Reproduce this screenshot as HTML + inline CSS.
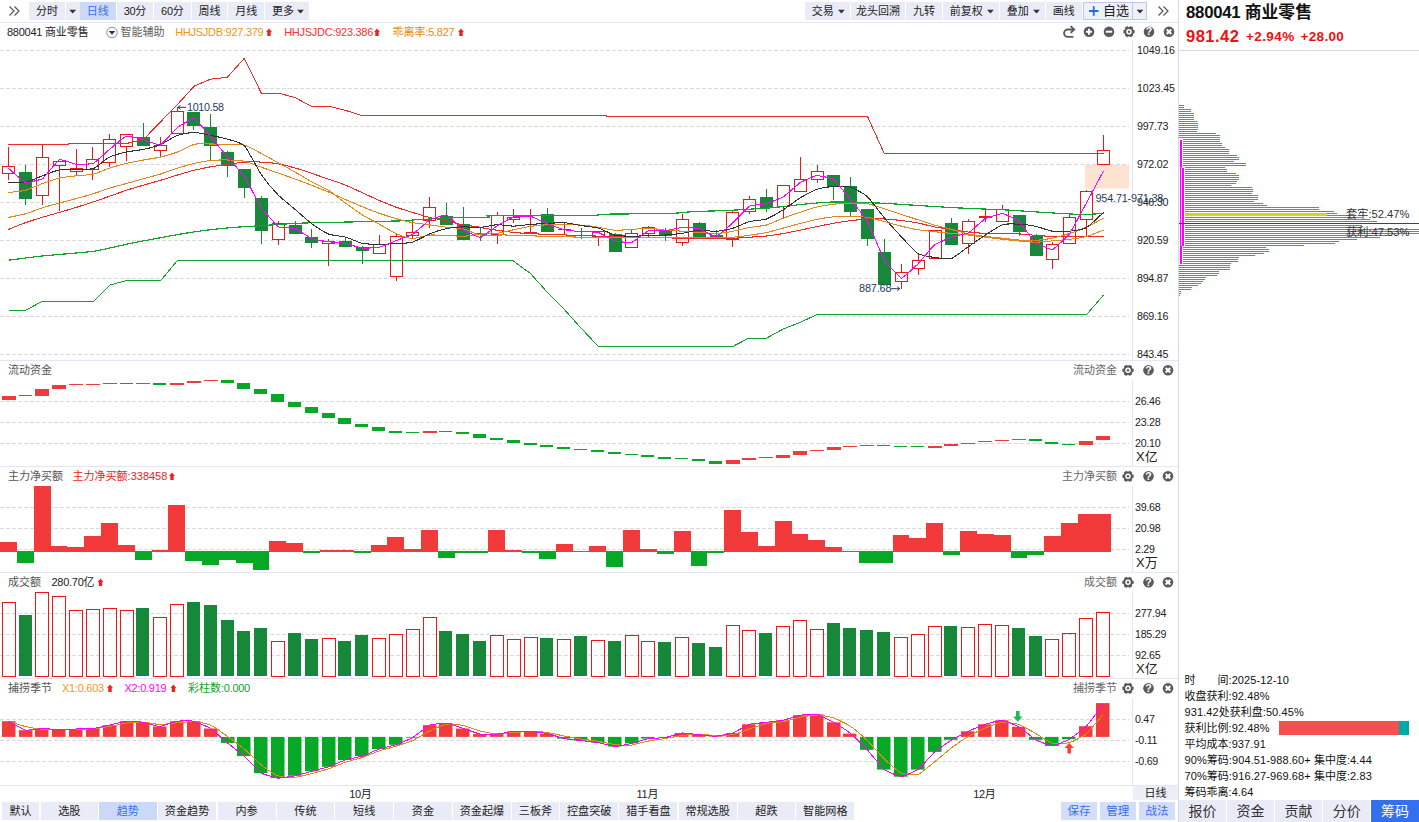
<!DOCTYPE html>
<html lang="zh-CN"><head><meta charset="utf-8"><title>880041 商业零售</title>
<style>html,body{margin:0;padding:0;background:#fff}
body{width:1419px;height:822px;position:relative;overflow:hidden;font-family:"Liberation Sans","Noto Sans CJK SC",sans-serif}
.b{position:absolute}
.t{position:absolute;white-space:nowrap}
svg{position:absolute;left:0;top:0}
.l1{z-index:1}.l2{z-index:2}.l3{z-index:3}
</style></head><body>
<div class="b" style="left:29px;top:2px;width:36px;height:18px;background:#E9ECF6;"></div>
<div class="b" style="left:66px;top:2px;width:13.5px;height:18px;background:#E9ECF6;"></div>
<div class="b" style="left:80px;top:2px;width:35.7px;height:18px;background:#CBD9F9;"></div>
<div class="b" style="left:116.6px;top:2px;width:36.80000000000001px;height:18px;background:#E9ECF6;"></div>
<div class="b" style="left:154.3px;top:2px;width:36.29999999999998px;height:18px;background:#E9ECF6;"></div>
<div class="b" style="left:191.5px;top:2px;width:35.80000000000001px;height:18px;background:#E9ECF6;"></div>
<div class="b" style="left:228.2px;top:2px;width:36.10000000000002px;height:18px;background:#E9ECF6;"></div>
<div class="b" style="left:265.2px;top:2px;width:43.80000000000001px;height:18px;background:#E9ECF6;"></div>
<div class="b" style="left:805.2px;top:2px;width:44.39999999999998px;height:18px;background:#E9ECF6;"></div>
<div class="b" style="left:851px;top:2px;width:53.799999999999955px;height:18px;background:#E9ECF6;"></div>
<div class="b" style="left:906.1px;top:2px;width:35.69999999999993px;height:18px;background:#E9ECF6;"></div>
<div class="b" style="left:943.1px;top:2px;width:55.5px;height:18px;background:#E9ECF6;"></div>
<div class="b" style="left:1000.1px;top:2px;width:44.60000000000002px;height:18px;background:#E9ECF6;"></div>
<div class="b" style="left:1045.9px;top:2px;width:35.899999999999864px;height:18px;background:#E9ECF6;"></div>
<div class="b" style="left:1083px;top:2px;width:49px;height:17px;background:#EEF1FA;border:1px solid #BCC7EA;box-sizing:content-box;width:48px;height:16px;"></div>
<div class="b" style="left:1133px;top:2px;width:14px;height:17px;background:#EEF1FA;border:1px solid #BCC7EA;border-left:none;box-sizing:content-box;width:13px;height:16px;"></div>
<div class="b" style="left:1133px;top:786px;width:45px;height:14px;background:#ECEEF8;"></div>
<div class="b" style="left:2px;top:802px;width:37px;height:18px;background:#E9ECF6;"></div>
<div class="b" style="left:40.6px;top:802px;width:57.4px;height:18px;background:#E9ECF6;"></div>
<div class="b" style="left:99px;top:802px;width:57.599999999999994px;height:18px;background:#CBD9F9;"></div>
<div class="b" style="left:157.6px;top:802px;width:58.900000000000006px;height:18px;background:#E9ECF6;"></div>
<div class="b" style="left:217.5px;top:802px;width:58.19999999999999px;height:18px;background:#E9ECF6;"></div>
<div class="b" style="left:276.7px;top:802px;width:57.5px;height:18px;background:#E9ECF6;"></div>
<div class="b" style="left:335.3px;top:802px;width:57.69999999999999px;height:18px;background:#E9ECF6;"></div>
<div class="b" style="left:394px;top:802px;width:57.80000000000001px;height:18px;background:#E9ECF6;"></div>
<div class="b" style="left:452.9px;top:802px;width:58.10000000000002px;height:18px;background:#E9ECF6;"></div>
<div class="b" style="left:512px;top:802px;width:47px;height:18px;background:#E9ECF6;"></div>
<div class="b" style="left:560px;top:802px;width:58.299999999999955px;height:18px;background:#E9ECF6;"></div>
<div class="b" style="left:619.3px;top:802px;width:58.200000000000045px;height:18px;background:#E9ECF6;"></div>
<div class="b" style="left:678.5px;top:802px;width:58.200000000000045px;height:18px;background:#E9ECF6;"></div>
<div class="b" style="left:737.7px;top:802px;width:57.5px;height:18px;background:#E9ECF6;"></div>
<div class="b" style="left:796.2px;top:802px;width:58.19999999999993px;height:18px;background:#E9ECF6;"></div>
<div class="b" style="left:1061.4px;top:802px;width:35.19999999999982px;height:18px;background:#D3DEFA;"></div>
<div class="b" style="left:1100px;top:802px;width:35.59999999999991px;height:18px;background:#D3DEFA;"></div>
<div class="b" style="left:1138.8px;top:802px;width:36.200000000000045px;height:18px;background:#D3DEFA;"></div>
<div class="b" style="left:1179px;top:800px;width:47px;height:22px;background:#E9ECF6;"></div>
<div class="b" style="left:1227px;top:800px;width:47px;height:22px;background:#E9ECF6;"></div>
<div class="b" style="left:1275px;top:800px;width:47px;height:22px;background:#E9ECF6;"></div>
<div class="b" style="left:1323px;top:800px;width:47.40000000000009px;height:22px;background:#E9ECF6;"></div>
<div class="b" style="left:1371px;top:800px;width:48px;height:22px;background:#3370F0;"></div>
<svg width="1419" height="822" viewBox="0 0 1419 822">
<line x1="0" y1="50.5" x2="1129" y2="50.5" stroke="#DADADA" stroke-width="1" stroke-dasharray="4 2" shape-rendering="crispEdges"/>
<line x1="0" y1="88.5" x2="1129" y2="88.5" stroke="#DADADA" stroke-width="1" stroke-dasharray="4 2" shape-rendering="crispEdges"/>
<line x1="0" y1="126.5" x2="1129" y2="126.5" stroke="#DADADA" stroke-width="1" stroke-dasharray="4 2" shape-rendering="crispEdges"/>
<line x1="0" y1="164.5" x2="1129" y2="164.5" stroke="#DADADA" stroke-width="1" stroke-dasharray="4 2" shape-rendering="crispEdges"/>
<line x1="0" y1="202.5" x2="1129" y2="202.5" stroke="#DADADA" stroke-width="1" stroke-dasharray="4 2" shape-rendering="crispEdges"/>
<line x1="0" y1="240.5" x2="1129" y2="240.5" stroke="#DADADA" stroke-width="1" stroke-dasharray="4 2" shape-rendering="crispEdges"/>
<line x1="0" y1="278.5" x2="1129" y2="278.5" stroke="#DADADA" stroke-width="1" stroke-dasharray="4 2" shape-rendering="crispEdges"/>
<line x1="0" y1="316.5" x2="1129" y2="316.5" stroke="#DADADA" stroke-width="1" stroke-dasharray="4 2" shape-rendering="crispEdges"/>
<line x1="0" y1="354.5" x2="1129" y2="354.5" stroke="#DADADA" stroke-width="1" stroke-dasharray="4 2" shape-rendering="crispEdges"/>
<line x1="0" y1="401.5" x2="1129" y2="401.5" stroke="#DADADA" stroke-width="1" stroke-dasharray="4 2" shape-rendering="crispEdges"/>
<line x1="0" y1="422.5" x2="1129" y2="422.5" stroke="#DADADA" stroke-width="1" stroke-dasharray="4 2" shape-rendering="crispEdges"/>
<line x1="0" y1="443.5" x2="1129" y2="443.5" stroke="#DADADA" stroke-width="1" stroke-dasharray="4 2" shape-rendering="crispEdges"/>
<line x1="0" y1="507.5" x2="1129" y2="507.5" stroke="#DADADA" stroke-width="1" stroke-dasharray="4 2" shape-rendering="crispEdges"/>
<line x1="0" y1="528.5" x2="1129" y2="528.5" stroke="#DADADA" stroke-width="1" stroke-dasharray="4 2" shape-rendering="crispEdges"/>
<line x1="0" y1="549.5" x2="1129" y2="549.5" stroke="#DADADA" stroke-width="1" stroke-dasharray="4 2" shape-rendering="crispEdges"/>
<line x1="0" y1="613.5" x2="1129" y2="613.5" stroke="#DADADA" stroke-width="1" stroke-dasharray="4 2" shape-rendering="crispEdges"/>
<line x1="0" y1="634.5" x2="1129" y2="634.5" stroke="#DADADA" stroke-width="1" stroke-dasharray="4 2" shape-rendering="crispEdges"/>
<line x1="0" y1="655.5" x2="1129" y2="655.5" stroke="#DADADA" stroke-width="1" stroke-dasharray="4 2" shape-rendering="crispEdges"/>
<line x1="0" y1="719.5" x2="1129" y2="719.5" stroke="#DADADA" stroke-width="1" stroke-dasharray="4 2" shape-rendering="crispEdges"/>
<line x1="0" y1="740.5" x2="1129" y2="740.5" stroke="#DADADA" stroke-width="1" stroke-dasharray="4 2" shape-rendering="crispEdges"/>
<line x1="0" y1="761.5" x2="1129" y2="761.5" stroke="#DADADA" stroke-width="1" stroke-dasharray="4 2" shape-rendering="crispEdges"/>
<line x1="0" y1="360.5" x2="1178" y2="360.5" stroke="#E2E5F3" stroke-width="1" shape-rendering="crispEdges"/>
<line x1="0" y1="466.5" x2="1178" y2="466.5" stroke="#E2E5F3" stroke-width="1" shape-rendering="crispEdges"/>
<line x1="0" y1="572.5" x2="1178" y2="572.5" stroke="#E2E5F3" stroke-width="1" shape-rendering="crispEdges"/>
<line x1="0" y1="678.5" x2="1178" y2="678.5" stroke="#E2E5F3" stroke-width="1" shape-rendering="crispEdges"/>
<line x1="0" y1="785.5" x2="1178" y2="785.5" stroke="#E2E5F3" stroke-width="1" shape-rendering="crispEdges"/>
<line x1="1132.5" y1="41" x2="1132.5" y2="360" stroke="#E2E5F3" stroke-width="1" shape-rendering="crispEdges"/>
<line x1="1132.5" y1="379.5" x2="1132.5" y2="466" stroke="#E2E5F3" stroke-width="1" shape-rendering="crispEdges"/>
<line x1="1132.5" y1="485" x2="1132.5" y2="572" stroke="#E2E5F3" stroke-width="1" shape-rendering="crispEdges"/>
<line x1="1132.5" y1="591" x2="1132.5" y2="678" stroke="#E2E5F3" stroke-width="1" shape-rendering="crispEdges"/>
<line x1="1132.5" y1="697.5" x2="1132.5" y2="786" stroke="#E2E5F3" stroke-width="1" shape-rendering="crispEdges"/>
<rect x="1085.0" y="165.0" width="44.0" height="23.5" fill="#FFE3D1" />
<line x1="8.5" y1="147.0" x2="8.5" y2="166.5" stroke="#EE1616" stroke-width="1" shape-rendering="crispEdges"/>
<line x1="8.5" y1="173.5" x2="8.5" y2="180.0" stroke="#EE1616" stroke-width="1" shape-rendering="crispEdges"/>
<rect x="2.5" y="166.5" width="12.0" height="7.0" fill="none" stroke="#EE1616" stroke-width="1" shape-rendering="crispEdges"/>
<line x1="25.5" y1="165.0" x2="25.5" y2="205.0" stroke="#17873A" stroke-width="1" shape-rendering="crispEdges"/>
<rect x="19.0" y="172.0" width="13.0" height="27.0" fill="#17873A" shape-rendering="crispEdges"/>
<line x1="42.5" y1="145.0" x2="42.5" y2="157.5" stroke="#EE1616" stroke-width="1" shape-rendering="crispEdges"/>
<line x1="42.5" y1="195.5" x2="42.5" y2="205.0" stroke="#EE1616" stroke-width="1" shape-rendering="crispEdges"/>
<rect x="36.5" y="157.5" width="12.0" height="38.0" fill="none" stroke="#EE1616" stroke-width="1" shape-rendering="crispEdges"/>
<line x1="59.5" y1="165.5" x2="59.5" y2="211.0" stroke="#EE1616" stroke-width="1" shape-rendering="crispEdges"/>
<rect x="53.5" y="161.5" width="12.0" height="4.0" fill="none" stroke="#EE1616" stroke-width="1" shape-rendering="crispEdges"/>
<line x1="76.5" y1="149.0" x2="76.5" y2="168.5" stroke="#EE1616" stroke-width="1" shape-rendering="crispEdges"/>
<line x1="76.5" y1="171.5" x2="76.5" y2="175.0" stroke="#EE1616" stroke-width="1" shape-rendering="crispEdges"/>
<rect x="70.5" y="168.5" width="12.0" height="3.0" fill="none" stroke="#EE1616" stroke-width="1" shape-rendering="crispEdges"/>
<line x1="92.5" y1="147.0" x2="92.5" y2="159.5" stroke="#EE1616" stroke-width="1" shape-rendering="crispEdges"/>
<line x1="92.5" y1="169.5" x2="92.5" y2="180.0" stroke="#EE1616" stroke-width="1" shape-rendering="crispEdges"/>
<rect x="86.5" y="159.5" width="12.0" height="10.0" fill="none" stroke="#EE1616" stroke-width="1" shape-rendering="crispEdges"/>
<line x1="109.5" y1="134.0" x2="109.5" y2="139.5" stroke="#EE1616" stroke-width="1" shape-rendering="crispEdges"/>
<line x1="109.5" y1="162.5" x2="109.5" y2="167.0" stroke="#EE1616" stroke-width="1" shape-rendering="crispEdges"/>
<rect x="103.5" y="139.5" width="12.0" height="23.0" fill="none" stroke="#EE1616" stroke-width="1" shape-rendering="crispEdges"/>
<line x1="126.5" y1="146.5" x2="126.5" y2="161.0" stroke="#EE1616" stroke-width="1" shape-rendering="crispEdges"/>
<rect x="120.5" y="134.5" width="12.0" height="12.0" fill="none" stroke="#EE1616" stroke-width="1" shape-rendering="crispEdges"/>
<line x1="143.5" y1="123.0" x2="143.5" y2="146.0" stroke="#17873A" stroke-width="1" shape-rendering="crispEdges"/>
<rect x="137.0" y="137.0" width="13.0" height="9.0" fill="#17873A" shape-rendering="crispEdges"/>
<line x1="160.5" y1="137.0" x2="160.5" y2="145.5" stroke="#EE1616" stroke-width="1" shape-rendering="crispEdges"/>
<line x1="160.5" y1="150.5" x2="160.5" y2="157.0" stroke="#EE1616" stroke-width="1" shape-rendering="crispEdges"/>
<rect x="154.5" y="145.5" width="12.0" height="5.0" fill="none" stroke="#EE1616" stroke-width="1" shape-rendering="crispEdges"/>
<line x1="177.5" y1="107.0" x2="177.5" y2="111.5" stroke="#EE1616" stroke-width="1" shape-rendering="crispEdges"/>
<rect x="171.5" y="111.5" width="12.0" height="22.0" fill="none" stroke="#EE1616" stroke-width="1" shape-rendering="crispEdges"/>
<line x1="193.5" y1="112.0" x2="193.5" y2="130.0" stroke="#17873A" stroke-width="1" shape-rendering="crispEdges"/>
<rect x="187.0" y="112.0" width="13.0" height="14.0" fill="#17873A" shape-rendering="crispEdges"/>
<line x1="210.5" y1="114.0" x2="210.5" y2="160.0" stroke="#17873A" stroke-width="1" shape-rendering="crispEdges"/>
<rect x="204.0" y="127.0" width="13.0" height="19.0" fill="#17873A" shape-rendering="crispEdges"/>
<line x1="227.5" y1="151.0" x2="227.5" y2="177.0" stroke="#17873A" stroke-width="1" shape-rendering="crispEdges"/>
<rect x="221.0" y="152.0" width="13.0" height="14.0" fill="#17873A" shape-rendering="crispEdges"/>
<line x1="244.5" y1="169.0" x2="244.5" y2="198.0" stroke="#17873A" stroke-width="1" shape-rendering="crispEdges"/>
<rect x="238.0" y="169.0" width="13.0" height="19.0" fill="#17873A" shape-rendering="crispEdges"/>
<line x1="261.5" y1="196.0" x2="261.5" y2="244.0" stroke="#17873A" stroke-width="1" shape-rendering="crispEdges"/>
<rect x="255.0" y="198.0" width="13.0" height="33.0" fill="#17873A" shape-rendering="crispEdges"/>
<line x1="278.5" y1="221.0" x2="278.5" y2="223.5" stroke="#EE1616" stroke-width="1" shape-rendering="crispEdges"/>
<line x1="278.5" y1="239.5" x2="278.5" y2="245.0" stroke="#EE1616" stroke-width="1" shape-rendering="crispEdges"/>
<rect x="272.5" y="223.5" width="12.0" height="16.0" fill="none" stroke="#EE1616" stroke-width="1" shape-rendering="crispEdges"/>
<line x1="295.5" y1="221.0" x2="295.5" y2="234.0" stroke="#17873A" stroke-width="1" shape-rendering="crispEdges"/>
<rect x="289.0" y="225.0" width="13.0" height="9.0" fill="#17873A" shape-rendering="crispEdges"/>
<line x1="311.5" y1="229.0" x2="311.5" y2="248.0" stroke="#17873A" stroke-width="1" shape-rendering="crispEdges"/>
<rect x="305.0" y="237.0" width="13.0" height="6.0" fill="#17873A" shape-rendering="crispEdges"/>
<line x1="328.5" y1="239.0" x2="328.5" y2="241.5" stroke="#EE1616" stroke-width="1" shape-rendering="crispEdges"/>
<line x1="328.5" y1="243.5" x2="328.5" y2="266.0" stroke="#EE1616" stroke-width="1" shape-rendering="crispEdges"/>
<rect x="322.5" y="241.5" width="12.0" height="2.0" fill="none" stroke="#EE1616" stroke-width="1" shape-rendering="crispEdges"/>
<line x1="345.5" y1="238.0" x2="345.5" y2="247.0" stroke="#17873A" stroke-width="1" shape-rendering="crispEdges"/>
<rect x="339.0" y="241.0" width="13.0" height="6.0" fill="#17873A" shape-rendering="crispEdges"/>
<line x1="362.5" y1="246.0" x2="362.5" y2="264.0" stroke="#17873A" stroke-width="1" shape-rendering="crispEdges"/>
<rect x="356.0" y="247.0" width="13.0" height="4.0" fill="#17873A" shape-rendering="crispEdges"/>
<line x1="379.5" y1="235.0" x2="379.5" y2="244.5" stroke="#EE1616" stroke-width="1" shape-rendering="crispEdges"/>
<rect x="373.5" y="244.5" width="12.0" height="9.0" fill="none" stroke="#EE1616" stroke-width="1" shape-rendering="crispEdges"/>
<line x1="396.5" y1="233.0" x2="396.5" y2="236.5" stroke="#EE1616" stroke-width="1" shape-rendering="crispEdges"/>
<line x1="396.5" y1="276.5" x2="396.5" y2="281.0" stroke="#EE1616" stroke-width="1" shape-rendering="crispEdges"/>
<rect x="390.5" y="236.5" width="12.0" height="40.0" fill="none" stroke="#EE1616" stroke-width="1" shape-rendering="crispEdges"/>
<line x1="412.5" y1="221.0" x2="412.5" y2="232.5" stroke="#EE1616" stroke-width="1" shape-rendering="crispEdges"/>
<line x1="412.5" y1="235.5" x2="412.5" y2="238.0" stroke="#EE1616" stroke-width="1" shape-rendering="crispEdges"/>
<rect x="406.5" y="232.5" width="12.0" height="3.0" fill="none" stroke="#EE1616" stroke-width="1" shape-rendering="crispEdges"/>
<line x1="429.5" y1="197.0" x2="429.5" y2="207.5" stroke="#EE1616" stroke-width="1" shape-rendering="crispEdges"/>
<line x1="429.5" y1="220.5" x2="429.5" y2="228.0" stroke="#EE1616" stroke-width="1" shape-rendering="crispEdges"/>
<rect x="423.5" y="207.5" width="12.0" height="13.0" fill="none" stroke="#EE1616" stroke-width="1" shape-rendering="crispEdges"/>
<line x1="446.5" y1="203.0" x2="446.5" y2="225.0" stroke="#17873A" stroke-width="1" shape-rendering="crispEdges"/>
<rect x="440.0" y="216.0" width="13.0" height="9.0" fill="#17873A" shape-rendering="crispEdges"/>
<line x1="463.5" y1="207.0" x2="463.5" y2="240.0" stroke="#17873A" stroke-width="1" shape-rendering="crispEdges"/>
<rect x="457.0" y="224.0" width="13.0" height="16.0" fill="#17873A" shape-rendering="crispEdges"/>
<line x1="480.5" y1="228.0" x2="480.5" y2="241.0" stroke="#17873A" stroke-width="1" shape-rendering="crispEdges"/>
<rect x="474.0" y="233.0" width="13.0" height="2.0" fill="#17873A" shape-rendering="crispEdges"/>
<line x1="497.5" y1="212.0" x2="497.5" y2="215.5" stroke="#EE1616" stroke-width="1" shape-rendering="crispEdges"/>
<line x1="497.5" y1="234.5" x2="497.5" y2="244.0" stroke="#EE1616" stroke-width="1" shape-rendering="crispEdges"/>
<rect x="491.5" y="215.5" width="12.0" height="19.0" fill="none" stroke="#EE1616" stroke-width="1" shape-rendering="crispEdges"/>
<line x1="513.5" y1="209.0" x2="513.5" y2="217.5" stroke="#EE1616" stroke-width="1" shape-rendering="crispEdges"/>
<line x1="513.5" y1="219.5" x2="513.5" y2="223.0" stroke="#EE1616" stroke-width="1" shape-rendering="crispEdges"/>
<rect x="507.5" y="217.5" width="12.0" height="2.0" fill="none" stroke="#EE1616" stroke-width="1" shape-rendering="crispEdges"/>
<line x1="530.5" y1="209.0" x2="530.5" y2="232.5" stroke="#EE1616" stroke-width="1" shape-rendering="crispEdges"/>
<line x1="524.0" y1="232.5" x2="537.0" y2="232.5" stroke="#EE1616" stroke-width="1" shape-rendering="crispEdges"/>
<line x1="547.5" y1="208.0" x2="547.5" y2="232.0" stroke="#17873A" stroke-width="1" shape-rendering="crispEdges"/>
<rect x="541.0" y="214.0" width="13.0" height="18.0" fill="#17873A" shape-rendering="crispEdges"/>
<line x1="564.5" y1="223.0" x2="564.5" y2="229.5" stroke="#EE1616" stroke-width="1" shape-rendering="crispEdges"/>
<line x1="564.5" y1="229.5" x2="564.5" y2="235.0" stroke="#EE1616" stroke-width="1" shape-rendering="crispEdges"/>
<line x1="558.0" y1="229.5" x2="571.0" y2="229.5" stroke="#EE1616" stroke-width="1" shape-rendering="crispEdges"/>
<line x1="581.5" y1="228.0" x2="581.5" y2="239.0" stroke="#17873A" stroke-width="1" shape-rendering="crispEdges"/>
<rect x="575.0" y="237.0" width="13.0" height="1.0" fill="#17873A" shape-rendering="crispEdges"/>
<line x1="598.5" y1="236.5" x2="598.5" y2="246.0" stroke="#EE1616" stroke-width="1" shape-rendering="crispEdges"/>
<rect x="592.5" y="231.5" width="12.0" height="5.0" fill="none" stroke="#EE1616" stroke-width="1" shape-rendering="crispEdges"/>
<line x1="615.5" y1="233.0" x2="615.5" y2="252.0" stroke="#17873A" stroke-width="1" shape-rendering="crispEdges"/>
<rect x="609.0" y="234.0" width="13.0" height="18.0" fill="#17873A" shape-rendering="crispEdges"/>
<line x1="631.5" y1="230.0" x2="631.5" y2="233.5" stroke="#EE1616" stroke-width="1" shape-rendering="crispEdges"/>
<rect x="625.5" y="233.5" width="12.0" height="14.0" fill="none" stroke="#EE1616" stroke-width="1" shape-rendering="crispEdges"/>
<line x1="648.5" y1="226.0" x2="648.5" y2="227.5" stroke="#EE1616" stroke-width="1" shape-rendering="crispEdges"/>
<line x1="648.5" y1="233.5" x2="648.5" y2="237.0" stroke="#EE1616" stroke-width="1" shape-rendering="crispEdges"/>
<rect x="642.5" y="227.5" width="12.0" height="6.0" fill="none" stroke="#EE1616" stroke-width="1" shape-rendering="crispEdges"/>
<line x1="665.5" y1="228.0" x2="665.5" y2="241.0" stroke="#17873A" stroke-width="1" shape-rendering="crispEdges"/>
<rect x="659.0" y="231.0" width="13.0" height="5.0" fill="#17873A" shape-rendering="crispEdges"/>
<line x1="682.5" y1="214.0" x2="682.5" y2="219.5" stroke="#EE1616" stroke-width="1" shape-rendering="crispEdges"/>
<line x1="682.5" y1="242.5" x2="682.5" y2="246.0" stroke="#EE1616" stroke-width="1" shape-rendering="crispEdges"/>
<rect x="676.5" y="219.5" width="12.0" height="23.0" fill="none" stroke="#EE1616" stroke-width="1" shape-rendering="crispEdges"/>
<line x1="699.5" y1="222.0" x2="699.5" y2="239.0" stroke="#17873A" stroke-width="1" shape-rendering="crispEdges"/>
<rect x="693.0" y="223.0" width="13.0" height="15.0" fill="#17873A" shape-rendering="crispEdges"/>
<line x1="716.5" y1="230.0" x2="716.5" y2="238.0" stroke="#17873A" stroke-width="1" shape-rendering="crispEdges"/>
<rect x="710.0" y="235.0" width="13.0" height="3.0" fill="#17873A" shape-rendering="crispEdges"/>
<line x1="732.5" y1="210.0" x2="732.5" y2="212.5" stroke="#EE1616" stroke-width="1" shape-rendering="crispEdges"/>
<line x1="732.5" y1="239.5" x2="732.5" y2="247.0" stroke="#EE1616" stroke-width="1" shape-rendering="crispEdges"/>
<rect x="726.5" y="212.5" width="12.0" height="27.0" fill="none" stroke="#EE1616" stroke-width="1" shape-rendering="crispEdges"/>
<line x1="749.5" y1="196.0" x2="749.5" y2="199.5" stroke="#EE1616" stroke-width="1" shape-rendering="crispEdges"/>
<line x1="749.5" y1="211.5" x2="749.5" y2="214.0" stroke="#EE1616" stroke-width="1" shape-rendering="crispEdges"/>
<rect x="743.5" y="199.5" width="12.0" height="12.0" fill="none" stroke="#EE1616" stroke-width="1" shape-rendering="crispEdges"/>
<line x1="766.5" y1="189.0" x2="766.5" y2="212.0" stroke="#17873A" stroke-width="1" shape-rendering="crispEdges"/>
<rect x="760.0" y="197.0" width="13.0" height="11.0" fill="#17873A" shape-rendering="crispEdges"/>
<line x1="783.5" y1="206.5" x2="783.5" y2="219.0" stroke="#EE1616" stroke-width="1" shape-rendering="crispEdges"/>
<rect x="777.5" y="185.5" width="12.0" height="21.0" fill="none" stroke="#EE1616" stroke-width="1" shape-rendering="crispEdges"/>
<line x1="800.5" y1="157.0" x2="800.5" y2="179.5" stroke="#EE1616" stroke-width="1" shape-rendering="crispEdges"/>
<rect x="794.5" y="179.5" width="12.0" height="12.0" fill="none" stroke="#EE1616" stroke-width="1" shape-rendering="crispEdges"/>
<line x1="817.5" y1="165.0" x2="817.5" y2="171.5" stroke="#EE1616" stroke-width="1" shape-rendering="crispEdges"/>
<line x1="817.5" y1="179.5" x2="817.5" y2="183.0" stroke="#EE1616" stroke-width="1" shape-rendering="crispEdges"/>
<rect x="811.5" y="171.5" width="12.0" height="8.0" fill="none" stroke="#EE1616" stroke-width="1" shape-rendering="crispEdges"/>
<line x1="833.5" y1="175.0" x2="833.5" y2="200.0" stroke="#17873A" stroke-width="1" shape-rendering="crispEdges"/>
<rect x="827.0" y="175.0" width="13.0" height="12.0" fill="#17873A" shape-rendering="crispEdges"/>
<line x1="850.5" y1="177.0" x2="850.5" y2="216.0" stroke="#17873A" stroke-width="1" shape-rendering="crispEdges"/>
<rect x="844.0" y="186.0" width="13.0" height="26.0" fill="#17873A" shape-rendering="crispEdges"/>
<line x1="867.5" y1="209.0" x2="867.5" y2="246.0" stroke="#17873A" stroke-width="1" shape-rendering="crispEdges"/>
<rect x="861.0" y="209.0" width="13.0" height="30.0" fill="#17873A" shape-rendering="crispEdges"/>
<line x1="884.5" y1="239.0" x2="884.5" y2="285.0" stroke="#17873A" stroke-width="1" shape-rendering="crispEdges"/>
<rect x="878.0" y="252.0" width="13.0" height="33.0" fill="#17873A" shape-rendering="crispEdges"/>
<line x1="901.5" y1="264.0" x2="901.5" y2="272.5" stroke="#EE1616" stroke-width="1" shape-rendering="crispEdges"/>
<line x1="901.5" y1="281.5" x2="901.5" y2="289.0" stroke="#EE1616" stroke-width="1" shape-rendering="crispEdges"/>
<rect x="895.5" y="272.5" width="12.0" height="9.0" fill="none" stroke="#EE1616" stroke-width="1" shape-rendering="crispEdges"/>
<line x1="918.5" y1="254.0" x2="918.5" y2="260.5" stroke="#EE1616" stroke-width="1" shape-rendering="crispEdges"/>
<line x1="918.5" y1="268.5" x2="918.5" y2="275.0" stroke="#EE1616" stroke-width="1" shape-rendering="crispEdges"/>
<rect x="912.5" y="260.5" width="12.0" height="8.0" fill="none" stroke="#EE1616" stroke-width="1" shape-rendering="crispEdges"/>
<line x1="935.5" y1="230.0" x2="935.5" y2="230.5" stroke="#EE1616" stroke-width="1" shape-rendering="crispEdges"/>
<rect x="929.5" y="230.5" width="12.0" height="28.0" fill="none" stroke="#EE1616" stroke-width="1" shape-rendering="crispEdges"/>
<line x1="951.5" y1="218.0" x2="951.5" y2="245.0" stroke="#17873A" stroke-width="1" shape-rendering="crispEdges"/>
<rect x="945.0" y="223.0" width="13.0" height="22.0" fill="#17873A" shape-rendering="crispEdges"/>
<line x1="968.5" y1="219.0" x2="968.5" y2="221.5" stroke="#EE1616" stroke-width="1" shape-rendering="crispEdges"/>
<line x1="968.5" y1="243.5" x2="968.5" y2="254.0" stroke="#EE1616" stroke-width="1" shape-rendering="crispEdges"/>
<rect x="962.5" y="221.5" width="12.0" height="22.0" fill="none" stroke="#EE1616" stroke-width="1" shape-rendering="crispEdges"/>
<line x1="985.5" y1="209.0" x2="985.5" y2="216.5" stroke="#EE1616" stroke-width="1" shape-rendering="crispEdges"/>
<line x1="985.5" y1="217.5" x2="985.5" y2="222.0" stroke="#EE1616" stroke-width="1" shape-rendering="crispEdges"/>
<rect x="979.5" y="216.5" width="12.0" height="1.0" fill="none" stroke="#EE1616" stroke-width="1" shape-rendering="crispEdges"/>
<line x1="1002.5" y1="205.0" x2="1002.5" y2="209.5" stroke="#EE1616" stroke-width="1" shape-rendering="crispEdges"/>
<rect x="996.5" y="209.5" width="12.0" height="12.0" fill="none" stroke="#EE1616" stroke-width="1" shape-rendering="crispEdges"/>
<line x1="1019.5" y1="215.0" x2="1019.5" y2="236.0" stroke="#17873A" stroke-width="1" shape-rendering="crispEdges"/>
<rect x="1013.0" y="215.0" width="13.0" height="17.0" fill="#17873A" shape-rendering="crispEdges"/>
<line x1="1036.5" y1="234.0" x2="1036.5" y2="256.0" stroke="#17873A" stroke-width="1" shape-rendering="crispEdges"/>
<rect x="1030.0" y="236.0" width="13.0" height="20.0" fill="#17873A" shape-rendering="crispEdges"/>
<line x1="1052.5" y1="242.0" x2="1052.5" y2="244.5" stroke="#EE1616" stroke-width="1" shape-rendering="crispEdges"/>
<line x1="1052.5" y1="259.5" x2="1052.5" y2="269.0" stroke="#EE1616" stroke-width="1" shape-rendering="crispEdges"/>
<rect x="1046.5" y="244.5" width="12.0" height="15.0" fill="none" stroke="#EE1616" stroke-width="1" shape-rendering="crispEdges"/>
<line x1="1069.5" y1="214.0" x2="1069.5" y2="217.5" stroke="#EE1616" stroke-width="1" shape-rendering="crispEdges"/>
<rect x="1063.5" y="217.5" width="12.0" height="26.0" fill="none" stroke="#EE1616" stroke-width="1" shape-rendering="crispEdges"/>
<line x1="1086.5" y1="190.0" x2="1086.5" y2="191.5" stroke="#EE1616" stroke-width="1" shape-rendering="crispEdges"/>
<line x1="1086.5" y1="219.5" x2="1086.5" y2="237.0" stroke="#EE1616" stroke-width="1" shape-rendering="crispEdges"/>
<rect x="1080.5" y="191.5" width="12.0" height="28.0" fill="none" stroke="#EE1616" stroke-width="1" shape-rendering="crispEdges"/>
<line x1="1103.5" y1="135.0" x2="1103.5" y2="150.5" stroke="#EE1616" stroke-width="1" shape-rendering="crispEdges"/>
<rect x="1097.5" y="150.5" width="12.0" height="14.0" fill="none" stroke="#EE1616" stroke-width="1" shape-rendering="crispEdges"/>
<polyline points="8.2,144.5 68.0,144.5 68.0,143.5 126.4,143.5 143.4,139.5 160.3,122.1 180.0,101.7 194.4,86.0 210.4,79.2 227.4,77.2 244.3,58.3 261.5,93.5 279.8,93.5 295.0,97.5 311.6,106.5 329.7,106.5 344.9,110.2 361.8,115.5 606.0,115.5 607.0,116.5 867.5,116.5 884.3,153.5 1103.8,153.5" fill="none" stroke="#F02828" stroke-width="1" stroke-linejoin="round" shape-rendering="crispEdges"/>
<polyline points="8.6,310.5 25.3,310.5 42.0,301.5 93.4,301.5 110.0,285.0 126.5,280.5 160.7,280.5 177.4,260.5 512.8,260.5 530.4,273.5 547.9,292.9 563.4,308.5 581.0,328.0 598.4,346.5 732.7,346.5 748.2,338.5 765.8,338.5 783.3,329.0 800.0,322.5 817.0,314.5 1086.6,314.5 1103.7,294.9" fill="none" stroke="#12A12E" stroke-width="1" stroke-linejoin="round" shape-rendering="crispEdges"/>
<path d="M8.6,260.2 C11.9,259.8 33.5,256.9 42.0,256.0 C50.5,255.1 85.0,252.5 93.4,251.3 C101.9,250.1 119.8,245.7 126.5,244.3 C133.2,242.9 153.9,238.9 160.7,237.7 C167.5,236.4 187.9,232.8 194.6,231.8 C201.3,230.8 221.5,228.5 227.6,227.9 C233.7,227.3 248.9,226.4 255.6,226.0 C262.3,225.6 288.5,223.7 295.0,223.4 C301.5,223.1 309.8,222.8 320.3,222.6 C330.8,222.3 390.7,221.2 400.4,220.9 C410.1,220.6 411.9,220.0 417.0,219.7 C422.1,219.4 443.8,218.3 451.0,218.0 C458.2,217.7 485.0,217.4 489.0,217.1 C493.0,216.8 480.9,215.6 491.0,215.4 C501.1,215.2 578.0,215.5 589.6,215.4 C601.2,215.3 601.6,214.4 606.6,214.2 C611.6,214.0 633.4,213.9 640.0,213.8 C646.6,213.7 667.5,213.5 673.0,213.3 C678.5,213.1 689.5,211.8 695.0,211.5 C700.5,211.2 720.1,210.9 727.6,210.5 C735.1,210.1 762.4,208.5 770.0,207.9 C777.6,207.3 797.7,204.8 804.0,204.2 C810.3,203.6 826.2,202.1 833.0,202.0 C839.8,201.9 865.7,202.6 872.4,202.8 C879.1,203.0 892.1,203.8 900.0,204.3 C907.9,204.8 941.2,207.0 951.5,207.6 C961.8,208.2 992.9,209.3 1003.0,209.8 C1013.1,210.3 1044.7,212.5 1053.0,213.0 C1061.3,213.5 1080.9,214.6 1086.0,214.6 C1091.1,214.6 1101.8,213.2 1103.6,213.0" fill="none" stroke="#10A52E" stroke-width="1.2" stroke-linejoin="round" shape-rendering="crispEdges"/>
<path d="M8.2,229.5 C9.9,228.8 22.1,223.9 25.5,222.7 C28.9,221.5 39.2,218.2 42.6,217.2 C46.0,216.2 56.1,213.4 59.5,212.4 C62.9,211.4 73.1,208.4 76.5,207.3 C79.9,206.2 90.1,203.0 93.4,201.9 C96.7,200.8 106.2,197.5 109.5,196.3 C112.8,195.1 123.0,191.4 126.4,190.3 C129.8,189.2 140.0,186.2 143.4,185.2 C146.8,184.2 156.9,181.4 160.3,180.4 C163.7,179.4 174.1,176.0 177.5,175.0 C180.9,174.0 191.1,171.0 194.4,170.2 C197.7,169.4 207.3,167.4 210.6,166.8 C213.9,166.2 224.2,164.9 227.6,164.4 C231.0,163.9 241.1,162.3 244.5,162.1 C247.9,161.9 258.1,161.9 261.5,162.1 C264.9,162.3 275.2,163.3 278.6,163.9 C282.0,164.5 292.3,167.2 295.6,168.1 C298.9,169.0 308.1,172.1 311.4,173.2 C314.7,174.3 325.1,178.0 328.5,179.2 C331.9,180.4 342.1,183.7 345.5,185.1 C348.9,186.5 359.1,191.3 362.5,192.8 C365.9,194.3 376.0,199.1 379.4,200.5 C382.8,201.9 393.1,206.1 396.4,207.3 C399.7,208.5 409.2,211.4 412.5,212.4 C415.8,213.4 426.1,216.7 429.5,217.5 C432.9,218.3 443.1,220.1 446.5,220.9 C449.9,221.7 460.6,224.6 463.5,225.2 C466.4,225.8 472.8,226.0 475.4,226.4 C477.9,226.8 485.2,228.4 489.0,229.0 C492.8,229.6 508.3,231.9 513.4,232.4 C518.5,232.9 533.2,233.8 540.0,234.1 C546.8,234.4 572.9,235.2 581.4,235.5 C589.9,235.8 614.6,236.7 625.0,237.0 C635.4,237.3 674.3,238.1 685.0,238.2 C695.7,238.3 726.0,238.3 732.4,238.2 C738.8,238.1 746.0,237.4 749.4,237.2 C752.8,237.0 763.0,236.4 766.4,236.0 C769.8,235.6 780.1,234.1 783.5,233.5 C786.9,232.9 797.2,230.8 800.5,230.1 C803.8,229.4 813.2,227.4 816.5,226.7 C819.8,226.0 830.2,223.9 833.6,223.3 C837.0,222.7 847.0,221.1 850.4,220.7 C853.8,220.3 864.1,219.2 867.5,219.0 C870.9,218.8 881.1,218.8 884.5,219.0 C887.9,219.2 898.2,220.1 901.5,220.5 C904.8,220.9 914.2,222.3 917.5,222.9 C920.8,223.5 931.2,226.2 934.6,226.9 C938.0,227.6 948.1,229.0 951.5,229.5 C954.9,230.0 965.1,231.7 968.5,232.1 C971.9,232.5 982.0,233.2 985.4,233.4 C988.8,233.6 999.2,233.8 1002.5,233.9 C1005.8,234.0 1015.2,233.8 1018.5,233.9 C1021.8,234.0 1031.9,235.0 1035.3,235.3 C1038.7,235.6 1049.0,236.4 1052.4,236.5 C1055.8,236.6 1066.1,236.5 1069.5,236.5 C1072.9,236.5 1082.9,236.5 1086.3,236.5 C1089.7,236.5 1101.9,236.5 1103.6,236.5" fill="none" stroke="#F02828" stroke-width="1.05" stroke-linejoin="round" shape-rendering="crispEdges"/>
<path d="M8.2,217.5 C9.9,217.1 22.1,214.8 25.5,213.8 C28.9,212.8 39.2,208.8 42.6,207.7 C46.0,206.6 56.1,204.0 59.5,203.1 C62.9,202.2 73.1,199.4 76.5,198.5 C79.9,197.6 90.1,194.7 93.4,193.7 C96.7,192.7 106.2,189.2 109.5,188.2 C112.8,187.2 123.0,184.4 126.4,183.5 C129.8,182.6 140.0,179.6 143.4,178.7 C146.8,177.8 156.9,175.2 160.3,174.1 C163.7,173.0 174.1,169.2 177.5,168.1 C180.9,167.0 191.1,164.2 194.4,163.4 C197.7,162.6 207.3,160.8 210.6,160.5 C213.9,160.2 224.2,159.9 227.6,160.0 C231.0,160.1 241.1,160.6 244.5,161.3 C247.9,162.0 258.1,166.1 261.5,167.3 C264.9,168.5 275.2,172.0 278.6,173.2 C282.0,174.4 292.3,178.0 295.6,179.2 C298.9,180.4 308.1,183.8 311.4,185.1 C314.7,186.4 325.1,190.6 328.5,192.0 C331.9,193.4 342.1,198.1 345.5,199.6 C348.9,201.1 359.1,205.4 362.5,206.8 C365.9,208.2 376.0,212.1 379.4,213.3 C382.8,214.5 393.1,217.8 396.4,218.7 C399.7,219.6 409.2,222.0 412.5,222.6 C415.8,223.2 426.1,224.3 429.5,224.8 C432.9,225.3 443.1,226.8 446.5,227.2 C449.9,227.6 460.1,228.1 463.5,228.9 C466.9,229.7 476.2,234.4 480.5,235.0 C484.8,235.6 498.4,234.8 506.0,235.0 C513.6,235.2 546.8,236.4 557.0,236.7 C567.2,236.9 595.2,237.4 608.0,237.5 C620.8,237.6 672.6,237.7 685.0,237.7 C697.4,237.7 726.0,237.4 732.4,237.2 C738.8,236.9 746.0,235.7 749.4,235.2 C752.8,234.7 763.0,233.3 766.4,232.6 C769.8,231.9 780.1,228.9 783.5,228.0 C786.9,227.1 797.2,224.2 800.5,223.3 C803.8,222.5 813.2,220.2 816.5,219.5 C819.8,218.8 830.2,217.1 833.6,216.8 C837.0,216.5 847.0,216.0 850.4,216.1 C853.8,216.2 864.1,216.8 867.5,217.3 C870.9,217.9 881.1,220.7 884.5,221.6 C887.9,222.5 898.2,225.5 901.5,226.3 C904.8,227.1 914.2,229.2 917.5,229.7 C920.8,230.2 931.2,231.3 934.6,231.7 C938.0,232.1 948.1,233.1 951.5,233.4 C954.9,233.7 965.1,234.6 968.5,235.0 C971.9,235.4 982.0,236.7 985.4,237.1 C988.8,237.5 999.2,238.9 1002.5,239.3 C1005.8,239.7 1015.2,240.6 1018.5,240.9 C1021.8,241.2 1031.9,242.2 1035.3,242.2 C1038.7,242.2 1049.0,241.2 1052.4,240.9 C1055.8,240.6 1066.1,239.7 1069.5,239.3 C1072.9,238.9 1082.9,237.4 1086.3,236.5 C1089.7,235.6 1101.9,230.7 1103.6,230.1" fill="none" stroke="#E0891A" stroke-width="1.05" stroke-linejoin="round" shape-rendering="crispEdges"/>
<path d="M8.2,192.5 C9.9,192.3 22.1,191.2 25.5,190.3 C28.9,189.4 39.2,184.7 42.6,183.5 C46.0,182.3 56.1,178.8 59.5,178.0 C62.9,177.2 73.1,176.2 76.5,175.8 C79.9,175.4 90.1,174.9 93.4,174.1 C96.7,173.3 106.2,169.2 109.5,168.1 C112.8,167.0 123.0,164.2 126.4,163.4 C129.8,162.6 140.0,160.6 143.4,160.0 C146.8,159.4 156.9,157.9 160.3,157.1 C163.7,156.3 174.1,153.3 177.5,152.0 C180.9,150.7 191.1,145.1 194.4,144.3 C197.7,143.5 207.3,144.0 210.6,144.0 C213.9,144.0 224.2,144.2 227.6,144.3 C231.0,144.4 241.1,144.2 244.5,145.1 C247.9,146.0 258.1,151.8 261.5,153.6 C264.9,155.4 275.2,161.1 278.6,163.0 C282.0,164.9 292.3,170.5 295.6,172.4 C298.9,174.3 308.1,179.9 311.4,181.7 C314.7,183.5 325.1,188.2 328.5,190.3 C331.9,192.4 342.1,200.5 345.5,203.0 C348.9,205.5 359.1,212.9 362.5,215.0 C365.9,217.1 376.0,222.4 379.4,224.3 C382.8,226.2 393.1,232.3 396.4,233.7 C399.7,235.1 409.2,238.4 412.5,238.5 C415.8,238.6 426.1,235.4 429.5,235.1 C432.9,234.8 443.1,235.3 446.5,235.4 C449.9,235.5 460.1,236.4 463.5,236.3 C466.9,236.2 477.1,234.4 480.5,234.1 C483.9,233.8 494.1,233.7 497.4,233.3 C500.7,232.9 510.1,230.5 513.4,229.8 C516.7,229.1 527.1,226.9 530.5,226.4 C533.9,225.9 544.1,224.9 547.5,224.7 C550.9,224.5 561.1,224.4 564.5,224.4 C567.9,224.4 578.0,224.8 581.4,225.1 C584.8,225.4 595.1,226.8 598.4,227.3 C601.7,227.8 611.2,230.0 614.5,230.2 C617.8,230.4 628.1,229.7 631.5,229.5 C634.9,229.3 645.1,228.0 648.5,228.1 C651.9,228.2 662.2,229.9 665.6,230.2 C669.0,230.5 679.2,231.0 682.6,231.2 C686.0,231.4 696.2,232.3 699.5,232.5 C702.8,232.7 712.4,233.6 715.7,233.5 C719.0,233.4 729.0,232.0 732.4,231.4 C735.8,230.8 746.0,228.1 749.4,227.5 C752.8,226.9 763.0,225.9 766.4,225.0 C769.8,224.1 780.1,219.4 783.5,218.1 C786.9,216.8 797.2,213.3 800.5,212.2 C803.8,211.1 813.2,207.9 816.5,207.1 C819.8,206.3 830.2,204.6 833.6,204.2 C837.0,203.8 847.0,203.4 850.4,203.3 C853.8,203.2 864.1,203.1 867.5,203.7 C870.9,204.2 881.1,207.7 884.5,208.8 C887.9,209.9 898.2,213.4 901.5,214.5 C904.8,215.6 914.2,218.5 917.5,219.6 C920.8,220.7 931.2,224.1 934.6,225.1 C938.0,226.1 948.1,228.6 951.5,229.5 C954.9,230.4 965.1,233.2 968.5,233.9 C971.9,234.6 982.0,236.1 985.4,236.5 C988.8,236.9 999.2,237.8 1002.5,238.2 C1005.8,238.5 1015.2,239.8 1018.5,240.0 C1021.8,240.2 1031.9,240.6 1035.3,240.4 C1038.7,240.2 1049.0,238.9 1052.4,238.2 C1055.8,237.5 1066.1,234.5 1069.5,233.4 C1072.9,232.3 1082.9,228.8 1086.3,227.3 C1089.7,225.8 1101.9,219.0 1103.6,218.1" fill="none" stroke="#E0891A" stroke-width="1.05" stroke-linejoin="round" shape-rendering="crispEdges"/>
<path d="M8.2,182.5 C9.9,182.5 22.1,183.2 25.5,182.5 C28.9,181.8 39.2,177.1 42.6,175.8 C46.0,174.5 56.1,170.4 59.5,169.8 C62.9,169.2 73.1,169.6 76.5,169.5 C79.9,169.4 90.1,169.7 93.4,168.5 C96.7,167.3 106.2,158.8 109.5,157.1 C112.8,155.4 123.0,152.8 126.4,152.0 C129.8,151.2 140.0,150.1 143.4,149.4 C146.8,148.7 156.9,146.0 160.3,144.6 C163.7,143.2 174.1,136.6 177.5,135.4 C180.9,134.2 191.1,132.4 194.4,132.4 C197.7,132.4 207.3,134.7 210.6,135.4 C213.9,136.1 224.2,138.1 227.6,139.2 C231.0,140.3 241.1,142.4 244.5,146.0 C247.9,149.6 258.1,170.0 261.5,174.9 C264.9,179.8 275.2,191.9 278.6,195.4 C282.0,198.9 292.3,207.0 295.6,209.8 C298.9,212.6 308.1,221.1 311.4,223.5 C314.7,225.9 325.1,232.6 328.5,234.0 C331.9,235.4 342.1,236.2 345.5,237.1 C348.9,238.0 359.1,242.7 362.5,243.4 C365.9,244.1 376.0,244.3 379.4,244.3 C382.8,244.3 393.1,243.8 396.4,243.6 C399.7,243.4 409.2,243.2 412.5,242.2 C415.8,241.2 426.1,235.4 429.5,234.0 C432.9,232.6 443.1,229.3 446.5,228.6 C449.9,227.9 460.1,227.0 463.5,226.9 C466.9,226.8 477.1,227.5 480.5,227.3 C483.9,227.1 494.1,224.8 497.4,224.7 C500.7,224.6 510.1,226.1 513.4,226.1 C516.7,226.1 527.1,224.7 530.5,224.4 C533.9,224.1 544.1,223.6 547.5,223.4 C550.9,223.2 561.1,222.5 564.5,222.7 C567.9,222.9 578.0,225.1 581.4,225.6 C584.8,226.1 595.1,227.2 598.4,228.1 C601.7,229.0 611.2,234.2 614.5,235.0 C617.8,235.8 628.1,236.2 631.5,236.3 C634.9,236.4 645.1,235.6 648.5,235.5 C651.9,235.4 662.2,235.2 665.6,235.0 C669.0,234.8 679.2,233.8 682.6,233.3 C686.0,232.8 696.2,230.3 699.5,230.1 C702.8,229.9 712.4,231.6 715.7,231.4 C719.0,231.2 729.0,229.4 732.4,228.4 C735.8,227.4 746.0,222.5 749.4,221.6 C752.8,220.7 763.0,220.2 766.4,219.0 C769.8,217.8 780.1,211.7 783.5,209.6 C786.9,207.5 797.2,199.7 800.5,197.7 C803.8,195.7 813.2,190.6 816.5,189.5 C819.8,188.4 830.2,186.8 833.6,186.6 C837.0,186.4 847.0,186.1 850.4,187.1 C853.8,188.1 864.1,193.7 867.5,196.8 C870.9,199.9 881.1,214.1 884.5,218.1 C887.9,222.1 898.2,233.4 901.5,236.9 C904.8,240.4 914.2,251.1 917.5,253.2 C920.8,255.3 931.2,257.0 934.6,257.5 C938.0,258.0 948.1,259.5 951.5,258.4 C954.9,257.3 965.1,248.9 968.5,246.6 C971.9,244.3 982.0,237.2 985.4,235.0 C988.8,232.8 999.2,225.8 1002.5,224.7 C1005.8,223.6 1015.2,224.0 1018.5,224.2 C1021.8,224.3 1031.9,225.5 1035.3,226.2 C1038.7,226.9 1049.0,230.7 1052.4,231.2 C1055.8,231.7 1066.1,231.5 1069.5,231.2 C1072.9,230.8 1082.9,229.6 1086.3,227.7 C1089.7,225.8 1101.9,213.9 1103.6,212.4" fill="none" stroke="#333333" stroke-width="1.05" stroke-linejoin="round" shape-rendering="crispEdges"/>
<path d="M8.2,168.1 C8.9,168.7 24.1,182.2 25.5,182.6 C26.9,183.0 41.2,179.6 42.6,178.7 C44.0,177.8 58.1,160.2 59.5,159.6 C60.9,159.0 75.1,164.2 76.5,164.4 C77.9,164.6 92.1,164.0 93.4,163.4 C94.7,162.8 108.2,150.5 109.5,149.4 C110.8,148.3 125.0,136.5 126.4,136.1 C127.8,135.7 142.0,139.1 143.4,139.5 C144.8,139.9 158.9,145.6 160.3,145.1 C161.7,144.6 176.1,128.4 177.5,127.3 C178.9,126.2 193.1,118.0 194.4,118.4 C195.7,118.8 209.3,135.1 210.6,136.6 C211.9,138.1 226.2,155.5 227.6,157.1 C229.0,158.7 243.1,174.6 244.5,176.6 C245.9,178.6 260.1,206.1 261.5,208.1 C262.9,210.1 277.2,226.1 278.6,226.9 C280.0,227.7 294.3,228.1 295.6,228.6 C296.9,229.1 310.1,238.0 311.4,238.5 C312.7,239.0 327.1,241.5 328.5,241.7 C329.9,241.9 344.1,243.1 345.5,243.4 C346.9,243.7 361.1,248.0 362.5,248.2 C363.9,248.4 378.0,247.6 379.4,247.3 C380.8,247.0 395.1,241.0 396.4,240.5 C397.7,240.0 411.2,235.3 412.5,234.5 C413.8,233.7 428.1,220.9 429.5,220.1 C430.9,219.3 445.1,214.6 446.5,215.0 C447.9,215.4 462.1,229.1 463.5,230.0 C464.9,230.9 479.1,237.7 480.5,237.5 C481.9,237.3 496.1,226.4 497.4,225.6 C498.7,224.8 512.1,217.5 513.4,217.1 C514.7,216.7 529.1,215.9 530.5,216.2 C531.9,216.5 546.1,223.4 547.5,223.9 C548.9,224.4 563.1,229.5 564.5,229.8 C565.9,230.1 580.0,231.5 581.4,231.6 C582.8,231.7 597.1,232.0 598.4,232.4 C599.7,232.8 613.2,240.5 614.5,240.9 C615.8,241.3 630.1,243.0 631.5,242.6 C632.9,242.2 647.1,231.2 648.5,230.7 C649.9,230.2 664.2,230.8 665.6,230.7 C667.0,230.6 681.2,227.4 682.6,227.3 C684.0,227.2 698.2,228.3 699.5,228.7 C700.8,229.1 714.4,237.1 715.7,236.9 C717.0,236.7 731.1,224.5 732.4,223.3 C733.7,222.1 748.0,207.0 749.4,206.2 C750.8,205.4 765.0,204.1 766.4,203.7 C767.8,203.3 782.1,197.7 783.5,196.8 C784.9,195.9 799.2,183.2 800.5,182.4 C801.8,181.6 815.2,175.7 816.5,175.6 C817.8,175.5 832.2,178.0 833.6,179.0 C835.0,180.0 849.0,197.7 850.4,199.4 C851.8,201.1 866.1,219.1 867.5,221.6 C868.9,224.1 883.1,258.4 884.5,260.7 C885.9,263.0 900.2,278.0 901.5,278.1 C902.8,278.2 916.2,265.6 917.5,264.3 C918.8,263.0 933.2,245.9 934.6,244.8 C936.0,243.7 950.1,237.6 951.5,237.1 C952.9,236.6 967.1,233.5 968.5,232.8 C969.9,232.1 984.0,219.3 985.4,218.5 C986.8,217.7 1001.2,213.4 1002.5,213.5 C1003.8,213.6 1017.2,219.5 1018.5,220.7 C1019.8,221.9 1033.9,241.4 1035.3,242.6 C1036.7,243.8 1051.0,249.9 1052.4,249.6 C1053.8,249.3 1068.1,235.8 1069.5,233.9 C1070.9,232.0 1084.9,205.7 1086.3,203.2 C1087.7,200.7 1102.9,172.1 1103.6,170.8" fill="none" stroke="#FF00FF" stroke-width="1.05" stroke-linejoin="round" shape-rendering="crispEdges"/>
<rect x="2.0" y="396.0" width="14.0" height="4.0" fill="#F23A3A" shape-rendering="crispEdges"/>
<rect x="19.0" y="395.0" width="13.0" height="1.0" fill="#08A827" shape-rendering="crispEdges"/>
<rect x="35.0" y="389.0" width="14.0" height="7.0" fill="#F23A3A" shape-rendering="crispEdges"/>
<rect x="52.0" y="385.0" width="14.0" height="4.0" fill="#F23A3A" shape-rendering="crispEdges"/>
<rect x="69.0" y="384.0" width="14.0" height="1.0" fill="#F23A3A" shape-rendering="crispEdges"/>
<rect x="86.0" y="384.0" width="14.0" height="1.0" fill="#F23A3A" shape-rendering="crispEdges"/>
<rect x="103.0" y="383.0" width="14.0" height="1.0" fill="#F23A3A" shape-rendering="crispEdges"/>
<rect x="120.0" y="383.0" width="13.0" height="1.0" fill="#08A827" shape-rendering="crispEdges"/>
<rect x="136.0" y="383.0" width="14.0" height="1.0" fill="#F23A3A" shape-rendering="crispEdges"/>
<rect x="153.0" y="383.0" width="13.0" height="2.0" fill="#08A827" shape-rendering="crispEdges"/>
<rect x="170.0" y="383.0" width="14.0" height="2.0" fill="#F23A3A" shape-rendering="crispEdges"/>
<rect x="187.0" y="381.0" width="14.0" height="2.0" fill="#F23A3A" shape-rendering="crispEdges"/>
<rect x="204.0" y="380.0" width="14.0" height="1.0" fill="#F23A3A" shape-rendering="crispEdges"/>
<rect x="221.0" y="380.0" width="13.0" height="3.0" fill="#08A827" shape-rendering="crispEdges"/>
<rect x="237.0" y="383.0" width="13.0" height="6.0" fill="#08A827" shape-rendering="crispEdges"/>
<rect x="254.0" y="389.0" width="13.0" height="5.0" fill="#08A827" shape-rendering="crispEdges"/>
<rect x="271.0" y="394.0" width="13.0" height="8.0" fill="#08A827" shape-rendering="crispEdges"/>
<rect x="288.0" y="402.0" width="13.0" height="5.0" fill="#08A827" shape-rendering="crispEdges"/>
<rect x="305.0" y="407.0" width="13.0" height="6.0" fill="#08A827" shape-rendering="crispEdges"/>
<rect x="322.0" y="413.0" width="13.0" height="5.0" fill="#08A827" shape-rendering="crispEdges"/>
<rect x="338.0" y="418.0" width="13.0" height="6.0" fill="#08A827" shape-rendering="crispEdges"/>
<rect x="355.0" y="424.0" width="13.0" height="3.0" fill="#08A827" shape-rendering="crispEdges"/>
<rect x="372.0" y="427.0" width="13.0" height="4.0" fill="#08A827" shape-rendering="crispEdges"/>
<rect x="389.0" y="431.0" width="13.0" height="2.0" fill="#08A827" shape-rendering="crispEdges"/>
<rect x="406.0" y="432.0" width="13.0" height="1.0" fill="#08A827" shape-rendering="crispEdges"/>
<rect x="423.0" y="431.0" width="14.0" height="2.0" fill="#F23A3A" shape-rendering="crispEdges"/>
<rect x="439.0" y="431.0" width="13.0" height="1.0" fill="#08A827" shape-rendering="crispEdges"/>
<rect x="456.0" y="432.0" width="13.0" height="2.0" fill="#08A827" shape-rendering="crispEdges"/>
<rect x="473.0" y="434.0" width="13.0" height="4.0" fill="#08A827" shape-rendering="crispEdges"/>
<rect x="490.0" y="438.0" width="13.0" height="2.0" fill="#08A827" shape-rendering="crispEdges"/>
<rect x="507.0" y="440.0" width="13.0" height="3.0" fill="#08A827" shape-rendering="crispEdges"/>
<rect x="524.0" y="443.0" width="13.0" height="2.0" fill="#08A827" shape-rendering="crispEdges"/>
<rect x="540.0" y="445.0" width="13.0" height="2.0" fill="#08A827" shape-rendering="crispEdges"/>
<rect x="557.0" y="447.0" width="13.0" height="2.0" fill="#08A827" shape-rendering="crispEdges"/>
<rect x="574.0" y="449.0" width="13.0" height="1.0" fill="#08A827" shape-rendering="crispEdges"/>
<rect x="591.0" y="450.0" width="13.0" height="2.0" fill="#08A827" shape-rendering="crispEdges"/>
<rect x="608.0" y="452.0" width="13.0" height="2.0" fill="#08A827" shape-rendering="crispEdges"/>
<rect x="625.0" y="454.0" width="13.0" height="1.0" fill="#08A827" shape-rendering="crispEdges"/>
<rect x="641.0" y="455.0" width="13.0" height="2.0" fill="#08A827" shape-rendering="crispEdges"/>
<rect x="658.0" y="457.0" width="13.0" height="2.0" fill="#08A827" shape-rendering="crispEdges"/>
<rect x="675.0" y="458.0" width="13.0" height="1.0" fill="#08A827" shape-rendering="crispEdges"/>
<rect x="692.0" y="459.0" width="13.0" height="2.0" fill="#08A827" shape-rendering="crispEdges"/>
<rect x="709.0" y="461.0" width="13.0" height="3.0" fill="#08A827" shape-rendering="crispEdges"/>
<rect x="726.0" y="460.0" width="14.0" height="4.0" fill="#F23A3A" shape-rendering="crispEdges"/>
<rect x="742.0" y="458.0" width="14.0" height="2.0" fill="#F23A3A" shape-rendering="crispEdges"/>
<rect x="759.0" y="457.0" width="14.0" height="1.0" fill="#F23A3A" shape-rendering="crispEdges"/>
<rect x="776.0" y="455.0" width="14.0" height="3.0" fill="#F23A3A" shape-rendering="crispEdges"/>
<rect x="793.0" y="451.0" width="14.0" height="4.0" fill="#F23A3A" shape-rendering="crispEdges"/>
<rect x="810.0" y="450.0" width="14.0" height="1.0" fill="#F23A3A" shape-rendering="crispEdges"/>
<rect x="827.0" y="447.0" width="14.0" height="3.0" fill="#F23A3A" shape-rendering="crispEdges"/>
<rect x="843.0" y="446.0" width="14.0" height="1.0" fill="#F23A3A" shape-rendering="crispEdges"/>
<rect x="860.0" y="445.0" width="14.0" height="1.0" fill="#F23A3A" shape-rendering="crispEdges"/>
<rect x="877.0" y="445.0" width="13.0" height="1.0" fill="#08A827" shape-rendering="crispEdges"/>
<rect x="894.0" y="446.0" width="13.0" height="1.0" fill="#08A827" shape-rendering="crispEdges"/>
<rect x="911.0" y="446.0" width="13.0" height="1.0" fill="#08A827" shape-rendering="crispEdges"/>
<rect x="928.0" y="446.0" width="14.0" height="2.0" fill="#F23A3A" shape-rendering="crispEdges"/>
<rect x="944.0" y="444.0" width="14.0" height="2.0" fill="#F23A3A" shape-rendering="crispEdges"/>
<rect x="961.0" y="443.0" width="14.0" height="1.0" fill="#F23A3A" shape-rendering="crispEdges"/>
<rect x="978.0" y="441.0" width="14.0" height="1.0" fill="#F23A3A" shape-rendering="crispEdges"/>
<rect x="995.0" y="440.0" width="14.0" height="1.0" fill="#F23A3A" shape-rendering="crispEdges"/>
<rect x="1012.0" y="439.0" width="14.0" height="1.0" fill="#F23A3A" shape-rendering="crispEdges"/>
<rect x="1029.0" y="439.0" width="13.0" height="2.0" fill="#08A827" shape-rendering="crispEdges"/>
<rect x="1045.0" y="442.0" width="13.0" height="2.0" fill="#08A827" shape-rendering="crispEdges"/>
<rect x="1062.0" y="444.0" width="13.0" height="1.0" fill="#08A827" shape-rendering="crispEdges"/>
<rect x="1079.0" y="441.0" width="14.0" height="4.0" fill="#F23A3A" shape-rendering="crispEdges"/>
<rect x="1096.0" y="436.0" width="14.0" height="4.0" fill="#F23A3A" shape-rendering="crispEdges"/>
<rect x="0.0" y="542.0" width="17.0" height="9.8" fill="#F23A3A" shape-rendering="crispEdges"/>
<rect x="17.0" y="551.3" width="17.0" height="11.2" fill="#08A827" shape-rendering="crispEdges"/>
<rect x="34.0" y="486.1" width="17.0" height="65.7" fill="#F23A3A" shape-rendering="crispEdges"/>
<rect x="51.0" y="546.2" width="16.0" height="5.6" fill="#F23A3A" shape-rendering="crispEdges"/>
<rect x="67.0" y="547.0" width="17.0" height="4.8" fill="#F23A3A" shape-rendering="crispEdges"/>
<rect x="84.0" y="536.0" width="17.0" height="15.8" fill="#F23A3A" shape-rendering="crispEdges"/>
<rect x="101.0" y="523.1" width="17.0" height="28.7" fill="#F23A3A" shape-rendering="crispEdges"/>
<rect x="118.0" y="545.1" width="17.0" height="6.7" fill="#F23A3A" shape-rendering="crispEdges"/>
<rect x="135.0" y="551.3" width="17.0" height="8.4" fill="#08A827" shape-rendering="crispEdges"/>
<rect x="152.0" y="549.8" width="16.0" height="2.0" fill="#F23A3A" shape-rendering="crispEdges"/>
<rect x="168.0" y="505.0" width="17.0" height="46.8" fill="#F23A3A" shape-rendering="crispEdges"/>
<rect x="185.0" y="551.3" width="17.0" height="9.5" fill="#08A827" shape-rendering="crispEdges"/>
<rect x="202.0" y="551.3" width="17.0" height="13.5" fill="#08A827" shape-rendering="crispEdges"/>
<rect x="219.0" y="551.3" width="17.0" height="8.4" fill="#08A827" shape-rendering="crispEdges"/>
<rect x="236.0" y="551.3" width="17.0" height="11.2" fill="#08A827" shape-rendering="crispEdges"/>
<rect x="253.0" y="551.3" width="16.0" height="18.6" fill="#08A827" shape-rendering="crispEdges"/>
<rect x="269.0" y="541.1" width="17.0" height="10.7" fill="#F23A3A" shape-rendering="crispEdges"/>
<rect x="286.0" y="543.1" width="17.0" height="8.7" fill="#F23A3A" shape-rendering="crispEdges"/>
<rect x="303.0" y="551.3" width="17.0" height="1.6" fill="#08A827" shape-rendering="crispEdges"/>
<rect x="320.0" y="549.8" width="17.0" height="2.0" fill="#F23A3A" shape-rendering="crispEdges"/>
<rect x="337.0" y="549.8" width="17.0" height="2.0" fill="#F23A3A" shape-rendering="crispEdges"/>
<rect x="354.0" y="551.3" width="17.0" height="1.6" fill="#08A827" shape-rendering="crispEdges"/>
<rect x="371.0" y="545.1" width="16.0" height="6.7" fill="#F23A3A" shape-rendering="crispEdges"/>
<rect x="387.0" y="537.2" width="17.0" height="14.6" fill="#F23A3A" shape-rendering="crispEdges"/>
<rect x="404.0" y="549.0" width="17.0" height="2.8" fill="#F23A3A" shape-rendering="crispEdges"/>
<rect x="421.0" y="530.1" width="17.0" height="21.7" fill="#F23A3A" shape-rendering="crispEdges"/>
<rect x="438.0" y="551.3" width="17.0" height="6.4" fill="#08A827" shape-rendering="crispEdges"/>
<rect x="455.0" y="551.3" width="17.0" height="1.3" fill="#08A827" shape-rendering="crispEdges"/>
<rect x="472.0" y="551.3" width="16.0" height="1.3" fill="#08A827" shape-rendering="crispEdges"/>
<rect x="488.0" y="530.1" width="17.0" height="21.7" fill="#F23A3A" shape-rendering="crispEdges"/>
<rect x="505.0" y="549.8" width="17.0" height="2.0" fill="#F23A3A" shape-rendering="crispEdges"/>
<rect x="522.0" y="551.3" width="17.0" height="1.7" fill="#08A827" shape-rendering="crispEdges"/>
<rect x="539.0" y="551.3" width="17.0" height="7.6" fill="#08A827" shape-rendering="crispEdges"/>
<rect x="556.0" y="543.9" width="17.0" height="7.9" fill="#F23A3A" shape-rendering="crispEdges"/>
<rect x="573.0" y="550.8" width="16.0" height="1.0" fill="#F23A3A" shape-rendering="crispEdges"/>
<rect x="589.0" y="545.9" width="17.0" height="5.9" fill="#F23A3A" shape-rendering="crispEdges"/>
<rect x="606.0" y="551.3" width="17.0" height="15.5" fill="#08A827" shape-rendering="crispEdges"/>
<rect x="623.0" y="530.1" width="17.0" height="21.7" fill="#F23A3A" shape-rendering="crispEdges"/>
<rect x="640.0" y="549.0" width="17.0" height="2.8" fill="#F23A3A" shape-rendering="crispEdges"/>
<rect x="657.0" y="551.3" width="17.0" height="2.5" fill="#08A827" shape-rendering="crispEdges"/>
<rect x="674.0" y="531.2" width="17.0" height="20.6" fill="#F23A3A" shape-rendering="crispEdges"/>
<rect x="691.0" y="551.3" width="16.0" height="14.3" fill="#08A827" shape-rendering="crispEdges"/>
<rect x="707.0" y="551.3" width="17.0" height="1.3" fill="#08A827" shape-rendering="crispEdges"/>
<rect x="724.0" y="509.8" width="17.0" height="42.0" fill="#F23A3A" shape-rendering="crispEdges"/>
<rect x="741.0" y="532.1" width="17.0" height="19.7" fill="#F23A3A" shape-rendering="crispEdges"/>
<rect x="758.0" y="545.9" width="17.0" height="5.9" fill="#F23A3A" shape-rendering="crispEdges"/>
<rect x="775.0" y="521.1" width="17.0" height="30.7" fill="#F23A3A" shape-rendering="crispEdges"/>
<rect x="792.0" y="533.9" width="16.0" height="17.9" fill="#F23A3A" shape-rendering="crispEdges"/>
<rect x="808.0" y="539.8" width="17.0" height="12.0" fill="#F23A3A" shape-rendering="crispEdges"/>
<rect x="825.0" y="547.0" width="17.0" height="4.8" fill="#F23A3A" shape-rendering="crispEdges"/>
<rect x="842.0" y="550.6" width="17.0" height="1.2" fill="#F23A3A" shape-rendering="crispEdges"/>
<rect x="859.0" y="551.3" width="17.0" height="11.3" fill="#08A827" shape-rendering="crispEdges"/>
<rect x="876.0" y="551.3" width="17.0" height="11.3" fill="#08A827" shape-rendering="crispEdges"/>
<rect x="893.0" y="535.1" width="16.0" height="16.7" fill="#F23A3A" shape-rendering="crispEdges"/>
<rect x="909.0" y="537.7" width="17.0" height="14.1" fill="#F23A3A" shape-rendering="crispEdges"/>
<rect x="926.0" y="522.9" width="17.0" height="28.9" fill="#F23A3A" shape-rendering="crispEdges"/>
<rect x="943.0" y="551.3" width="17.0" height="4.1" fill="#08A827" shape-rendering="crispEdges"/>
<rect x="960.0" y="530.9" width="17.0" height="20.9" fill="#F23A3A" shape-rendering="crispEdges"/>
<rect x="977.0" y="533.9" width="17.0" height="17.9" fill="#F23A3A" shape-rendering="crispEdges"/>
<rect x="994.0" y="535.1" width="17.0" height="16.7" fill="#F23A3A" shape-rendering="crispEdges"/>
<rect x="1011.0" y="551.3" width="16.0" height="6.2" fill="#08A827" shape-rendering="crispEdges"/>
<rect x="1027.0" y="551.3" width="17.0" height="4.1" fill="#08A827" shape-rendering="crispEdges"/>
<rect x="1044.0" y="536.0" width="17.0" height="15.8" fill="#F23A3A" shape-rendering="crispEdges"/>
<rect x="1061.0" y="522.9" width="17.0" height="28.9" fill="#F23A3A" shape-rendering="crispEdges"/>
<rect x="1078.0" y="514.0" width="17.0" height="37.8" fill="#F23A3A" shape-rendering="crispEdges"/>
<rect x="1095.0" y="514.0" width="16.0" height="37.8" fill="#F23A3A" shape-rendering="crispEdges"/>
<rect x="2.5" y="602.5" width="13.0" height="73.5" fill="none" stroke="#EE1616" stroke-width="1" shape-rendering="crispEdges"/>
<rect x="19.0" y="615.0" width="13.0" height="61.0" fill="#17873A" shape-rendering="crispEdges"/>
<rect x="35.5" y="592.5" width="13.0" height="83.5" fill="none" stroke="#EE1616" stroke-width="1" shape-rendering="crispEdges"/>
<rect x="52.5" y="596.5" width="13.0" height="79.5" fill="none" stroke="#EE1616" stroke-width="1" shape-rendering="crispEdges"/>
<rect x="69.5" y="610.5" width="13.0" height="65.5" fill="none" stroke="#EE1616" stroke-width="1" shape-rendering="crispEdges"/>
<rect x="86.5" y="609.5" width="13.0" height="66.5" fill="none" stroke="#EE1616" stroke-width="1" shape-rendering="crispEdges"/>
<rect x="103.5" y="608.5" width="13.0" height="67.5" fill="none" stroke="#EE1616" stroke-width="1" shape-rendering="crispEdges"/>
<rect x="120.5" y="610.5" width="13.0" height="65.5" fill="none" stroke="#EE1616" stroke-width="1" shape-rendering="crispEdges"/>
<rect x="136.0" y="608.0" width="13.0" height="68.0" fill="#17873A" shape-rendering="crispEdges"/>
<rect x="153.5" y="617.5" width="13.0" height="58.5" fill="none" stroke="#EE1616" stroke-width="1" shape-rendering="crispEdges"/>
<rect x="170.5" y="604.5" width="13.0" height="71.5" fill="none" stroke="#EE1616" stroke-width="1" shape-rendering="crispEdges"/>
<rect x="187.0" y="602.0" width="13.0" height="74.0" fill="#17873A" shape-rendering="crispEdges"/>
<rect x="204.0" y="605.0" width="13.0" height="71.0" fill="#17873A" shape-rendering="crispEdges"/>
<rect x="221.0" y="620.0" width="13.0" height="56.0" fill="#17873A" shape-rendering="crispEdges"/>
<rect x="237.0" y="631.0" width="13.0" height="45.0" fill="#17873A" shape-rendering="crispEdges"/>
<rect x="254.0" y="628.0" width="13.0" height="48.0" fill="#17873A" shape-rendering="crispEdges"/>
<rect x="271.5" y="641.5" width="13.0" height="34.5" fill="none" stroke="#EE1616" stroke-width="1" shape-rendering="crispEdges"/>
<rect x="288.0" y="633.0" width="13.0" height="43.0" fill="#17873A" shape-rendering="crispEdges"/>
<rect x="305.0" y="639.0" width="13.0" height="37.0" fill="#17873A" shape-rendering="crispEdges"/>
<rect x="322.5" y="638.5" width="13.0" height="37.5" fill="none" stroke="#EE1616" stroke-width="1" shape-rendering="crispEdges"/>
<rect x="338.0" y="641.0" width="13.0" height="35.0" fill="#17873A" shape-rendering="crispEdges"/>
<rect x="355.0" y="635.0" width="13.0" height="41.0" fill="#17873A" shape-rendering="crispEdges"/>
<rect x="372.5" y="638.5" width="13.0" height="37.5" fill="none" stroke="#EE1616" stroke-width="1" shape-rendering="crispEdges"/>
<rect x="389.5" y="634.5" width="13.0" height="41.5" fill="none" stroke="#EE1616" stroke-width="1" shape-rendering="crispEdges"/>
<rect x="406.5" y="629.5" width="13.0" height="46.5" fill="none" stroke="#EE1616" stroke-width="1" shape-rendering="crispEdges"/>
<rect x="423.5" y="617.5" width="13.0" height="58.5" fill="none" stroke="#EE1616" stroke-width="1" shape-rendering="crispEdges"/>
<rect x="439.0" y="631.0" width="13.0" height="45.0" fill="#17873A" shape-rendering="crispEdges"/>
<rect x="456.0" y="634.0" width="13.0" height="42.0" fill="#17873A" shape-rendering="crispEdges"/>
<rect x="473.0" y="641.0" width="13.0" height="35.0" fill="#17873A" shape-rendering="crispEdges"/>
<rect x="490.5" y="635.5" width="13.0" height="40.5" fill="none" stroke="#EE1616" stroke-width="1" shape-rendering="crispEdges"/>
<rect x="507.5" y="639.5" width="13.0" height="36.5" fill="none" stroke="#EE1616" stroke-width="1" shape-rendering="crispEdges"/>
<rect x="524.5" y="637.5" width="13.0" height="38.5" fill="none" stroke="#EE1616" stroke-width="1" shape-rendering="crispEdges"/>
<rect x="540.0" y="638.0" width="13.0" height="38.0" fill="#17873A" shape-rendering="crispEdges"/>
<rect x="557.5" y="639.5" width="13.0" height="36.5" fill="none" stroke="#EE1616" stroke-width="1" shape-rendering="crispEdges"/>
<rect x="574.0" y="636.0" width="13.0" height="40.0" fill="#17873A" shape-rendering="crispEdges"/>
<rect x="591.5" y="640.5" width="13.0" height="35.5" fill="none" stroke="#EE1616" stroke-width="1" shape-rendering="crispEdges"/>
<rect x="608.0" y="641.0" width="13.0" height="35.0" fill="#17873A" shape-rendering="crispEdges"/>
<rect x="625.5" y="635.5" width="13.0" height="40.5" fill="none" stroke="#EE1616" stroke-width="1" shape-rendering="crispEdges"/>
<rect x="641.5" y="641.5" width="13.0" height="34.5" fill="none" stroke="#EE1616" stroke-width="1" shape-rendering="crispEdges"/>
<rect x="658.0" y="642.0" width="13.0" height="34.0" fill="#17873A" shape-rendering="crispEdges"/>
<rect x="675.5" y="637.5" width="13.0" height="38.5" fill="none" stroke="#EE1616" stroke-width="1" shape-rendering="crispEdges"/>
<rect x="692.0" y="643.0" width="13.0" height="33.0" fill="#17873A" shape-rendering="crispEdges"/>
<rect x="709.0" y="647.0" width="13.0" height="29.0" fill="#17873A" shape-rendering="crispEdges"/>
<rect x="726.5" y="625.5" width="13.0" height="50.5" fill="none" stroke="#EE1616" stroke-width="1" shape-rendering="crispEdges"/>
<rect x="742.5" y="630.5" width="13.0" height="45.5" fill="none" stroke="#EE1616" stroke-width="1" shape-rendering="crispEdges"/>
<rect x="759.0" y="633.0" width="13.0" height="43.0" fill="#17873A" shape-rendering="crispEdges"/>
<rect x="776.5" y="626.5" width="13.0" height="49.5" fill="none" stroke="#EE1616" stroke-width="1" shape-rendering="crispEdges"/>
<rect x="793.5" y="620.5" width="13.0" height="55.5" fill="none" stroke="#EE1616" stroke-width="1" shape-rendering="crispEdges"/>
<rect x="810.5" y="629.5" width="13.0" height="46.5" fill="none" stroke="#EE1616" stroke-width="1" shape-rendering="crispEdges"/>
<rect x="827.0" y="623.0" width="13.0" height="53.0" fill="#17873A" shape-rendering="crispEdges"/>
<rect x="843.0" y="628.0" width="13.0" height="48.0" fill="#17873A" shape-rendering="crispEdges"/>
<rect x="860.0" y="630.0" width="13.0" height="46.0" fill="#17873A" shape-rendering="crispEdges"/>
<rect x="877.0" y="632.0" width="13.0" height="44.0" fill="#17873A" shape-rendering="crispEdges"/>
<rect x="894.5" y="637.5" width="13.0" height="38.5" fill="none" stroke="#EE1616" stroke-width="1" shape-rendering="crispEdges"/>
<rect x="911.5" y="634.5" width="13.0" height="41.5" fill="none" stroke="#EE1616" stroke-width="1" shape-rendering="crispEdges"/>
<rect x="928.5" y="626.5" width="13.0" height="49.5" fill="none" stroke="#EE1616" stroke-width="1" shape-rendering="crispEdges"/>
<rect x="944.0" y="626.0" width="13.0" height="50.0" fill="#17873A" shape-rendering="crispEdges"/>
<rect x="961.5" y="627.5" width="13.0" height="48.5" fill="none" stroke="#EE1616" stroke-width="1" shape-rendering="crispEdges"/>
<rect x="978.5" y="624.5" width="13.0" height="51.5" fill="none" stroke="#EE1616" stroke-width="1" shape-rendering="crispEdges"/>
<rect x="995.5" y="625.5" width="13.0" height="50.5" fill="none" stroke="#EE1616" stroke-width="1" shape-rendering="crispEdges"/>
<rect x="1012.0" y="628.0" width="13.0" height="48.0" fill="#17873A" shape-rendering="crispEdges"/>
<rect x="1029.0" y="636.0" width="13.0" height="40.0" fill="#17873A" shape-rendering="crispEdges"/>
<rect x="1045.5" y="639.5" width="13.0" height="36.5" fill="none" stroke="#EE1616" stroke-width="1" shape-rendering="crispEdges"/>
<rect x="1062.5" y="633.5" width="13.0" height="42.5" fill="none" stroke="#EE1616" stroke-width="1" shape-rendering="crispEdges"/>
<rect x="1079.5" y="618.5" width="13.0" height="57.5" fill="none" stroke="#EE1616" stroke-width="1" shape-rendering="crispEdges"/>
<rect x="1096.5" y="612.5" width="13.0" height="63.5" fill="none" stroke="#EE1616" stroke-width="1" shape-rendering="crispEdges"/>
<rect x="2.0" y="721.2" width="13.5" height="15.7" fill="#F23A3A" />
<rect x="19.0" y="730.2" width="13.5" height="6.7" fill="#F23A3A" />
<rect x="35.0" y="728.5" width="13.5" height="8.4" fill="#F23A3A" />
<rect x="52.0" y="729.6" width="13.5" height="7.3" fill="#F23A3A" />
<rect x="69.0" y="729.0" width="13.5" height="7.9" fill="#F23A3A" />
<rect x="86.0" y="728.5" width="13.5" height="8.4" fill="#F23A3A" />
<rect x="103.0" y="725.1" width="13.5" height="11.8" fill="#F23A3A" />
<rect x="120.0" y="721.2" width="13.5" height="15.7" fill="#F23A3A" />
<rect x="136.0" y="722.3" width="13.5" height="14.6" fill="#F23A3A" />
<rect x="153.0" y="726.5" width="13.5" height="10.4" fill="#F23A3A" />
<rect x="170.0" y="721.2" width="13.5" height="15.7" fill="#F23A3A" />
<rect x="187.0" y="721.2" width="13.5" height="15.7" fill="#F23A3A" />
<rect x="204.0" y="728.5" width="13.5" height="8.4" fill="#F23A3A" />
<rect x="221.0" y="736.9" width="13.5" height="6.0" fill="#08A827" />
<rect x="237.0" y="736.9" width="13.5" height="19.2" fill="#08A827" />
<rect x="254.0" y="736.9" width="13.5" height="36.1" fill="#08A827" />
<rect x="271.0" y="736.9" width="13.5" height="41.2" fill="#08A827" />
<rect x="288.0" y="736.9" width="13.5" height="38.9" fill="#08A827" />
<rect x="305.0" y="736.9" width="13.5" height="34.4" fill="#08A827" />
<rect x="322.0" y="736.9" width="13.5" height="29.9" fill="#08A827" />
<rect x="338.0" y="736.9" width="13.5" height="23.1" fill="#08A827" />
<rect x="355.0" y="736.9" width="13.5" height="19.2" fill="#08A827" />
<rect x="372.0" y="736.9" width="13.5" height="12.2" fill="#08A827" />
<rect x="389.0" y="736.9" width="13.5" height="7.9" fill="#08A827" />
<rect x="406.0" y="736.9" width="13.5" height="0.8" fill="#08A827" />
<rect x="423.0" y="725.1" width="13.5" height="11.8" fill="#F23A3A" />
<rect x="439.0" y="723.1" width="13.5" height="13.8" fill="#F23A3A" />
<rect x="456.0" y="728.5" width="13.5" height="8.4" fill="#F23A3A" />
<rect x="473.0" y="734.1" width="13.5" height="2.8" fill="#F23A3A" />
<rect x="490.0" y="734.1" width="13.5" height="2.8" fill="#F23A3A" />
<rect x="507.0" y="731.3" width="13.5" height="5.6" fill="#F23A3A" />
<rect x="524.0" y="731.3" width="13.5" height="5.6" fill="#F23A3A" />
<rect x="540.0" y="733.6" width="13.5" height="3.3" fill="#F23A3A" />
<rect x="557.0" y="736.9" width="13.5" height="1.7" fill="#08A827" />
<rect x="574.0" y="736.9" width="13.5" height="3.7" fill="#08A827" />
<rect x="591.0" y="736.9" width="13.5" height="5.7" fill="#08A827" />
<rect x="608.0" y="736.9" width="13.5" height="9.6" fill="#08A827" />
<rect x="625.0" y="736.9" width="13.5" height="6.5" fill="#08A827" />
<rect x="641.0" y="736.9" width="13.5" height="1.7" fill="#08A827" />
<rect x="658.0" y="736.9" width="13.5" height="0.7" fill="#08A827" />
<rect x="675.0" y="733.0" width="13.5" height="3.9" fill="#F23A3A" />
<rect x="692.0" y="734.7" width="13.5" height="2.2" fill="#F23A3A" />
<rect x="709.0" y="736.2" width="13.5" height="0.7" fill="#F23A3A" />
<rect x="726.0" y="733.0" width="13.5" height="3.9" fill="#F23A3A" />
<rect x="742.0" y="724.3" width="13.5" height="12.6" fill="#F23A3A" />
<rect x="759.0" y="722.3" width="13.5" height="14.6" fill="#F23A3A" />
<rect x="776.0" y="720.3" width="13.5" height="16.6" fill="#F23A3A" />
<rect x="793.0" y="715.2" width="13.5" height="21.7" fill="#F23A3A" />
<rect x="810.0" y="714.4" width="13.5" height="22.5" fill="#F23A3A" />
<rect x="827.0" y="722.3" width="13.5" height="14.6" fill="#F23A3A" />
<rect x="843.0" y="733.6" width="13.5" height="3.3" fill="#F23A3A" />
<rect x="860.0" y="736.9" width="13.5" height="13.0" fill="#08A827" />
<rect x="877.0" y="736.9" width="13.5" height="32.7" fill="#08A827" />
<rect x="894.0" y="736.9" width="13.5" height="39.8" fill="#08A827" />
<rect x="911.0" y="736.9" width="13.5" height="32.7" fill="#08A827" />
<rect x="928.0" y="736.9" width="13.5" height="15.0" fill="#08A827" />
<rect x="944.0" y="736.9" width="13.5" height="2.9" fill="#08A827" />
<rect x="961.0" y="731.3" width="13.5" height="5.6" fill="#F23A3A" />
<rect x="978.0" y="724.3" width="13.5" height="12.6" fill="#F23A3A" />
<rect x="995.0" y="720.3" width="13.5" height="16.6" fill="#F23A3A" />
<rect x="1012.0" y="726.8" width="13.5" height="10.1" fill="#F23A3A" />
<rect x="1029.0" y="736.9" width="13.5" height="2.9" fill="#08A827" />
<rect x="1045.0" y="736.9" width="13.5" height="9.1" fill="#08A827" />
<rect x="1062.0" y="736.9" width="13.5" height="2.3" fill="#08A827" />
<rect x="1079.0" y="726.2" width="13.5" height="10.7" fill="#F23A3A" />
<rect x="1096.0" y="703.1" width="13.5" height="33.8" fill="#F23A3A" />
<path d="M8.5,721.2 C10.2,721.7 22.0,725.7 25.3,726.5 C28.7,727.3 38.8,729.0 42.2,729.3 C45.6,729.6 55.7,729.6 59.0,729.6 C62.4,729.6 72.5,729.4 75.9,729.3 C79.2,729.2 89.3,729.1 92.7,728.8 C96.1,728.5 106.2,727.1 109.6,726.5 C112.9,725.9 123.0,723.5 126.4,723.1 C129.8,722.7 139.9,722.2 143.2,722.3 C146.6,722.4 156.7,724.5 160.1,724.5 C163.4,724.5 173.6,723.1 176.9,722.8 C180.3,722.5 190.4,721.5 193.8,721.7 C197.1,721.9 207.2,723.6 210.6,725.1 C214.0,726.6 224.1,734.0 227.4,736.4 C230.8,738.8 240.9,746.3 244.3,749.1 C247.7,751.9 257.8,761.9 261.1,764.6 C264.5,767.3 274.6,774.5 278.0,775.8 C281.3,777.1 291.4,777.5 294.8,777.3 C298.2,777.1 308.3,774.5 311.7,773.6 C315.0,772.8 325.1,769.9 328.5,768.8 C331.9,767.7 342.0,763.4 345.3,762.3 C348.7,761.2 358.8,758.6 362.2,757.5 C365.6,756.4 375.7,752.1 379.0,751.0 C382.4,749.9 392.5,747.2 395.9,746.2 C399.2,745.2 409.3,742.0 412.7,740.5 C416.1,739.0 426.2,732.6 429.5,731.0 C432.9,729.4 443.0,725.0 446.4,724.5 C449.8,724.0 459.9,724.9 463.2,725.5 C466.6,726.1 476.7,730.2 480.1,731.0 C483.4,731.8 493.5,733.6 496.9,733.8 C500.3,733.9 510.4,732.7 513.8,732.5 C517.1,732.3 527.2,731.5 530.6,731.5 C534.0,731.5 544.1,732.0 547.4,732.5 C550.8,733.0 560.9,735.4 564.3,736.0 C567.7,736.6 577.8,738.5 581.1,739.0 C584.5,739.5 594.6,740.8 598.0,741.3 C601.3,741.8 611.4,744.1 614.8,744.5 C618.2,744.9 628.3,745.4 631.7,745.0 C635.0,744.6 645.1,741.6 648.5,741.0 C651.9,740.4 662.0,739.0 665.3,738.5 C668.7,738.0 678.8,735.9 682.2,735.5 C685.5,735.1 695.7,734.3 699.0,734.3 C702.4,734.3 712.5,735.5 715.9,735.5 C719.2,735.5 729.3,735.1 732.7,734.5 C736.1,733.9 746.2,730.1 749.5,729.0 C752.9,727.9 763.0,724.2 766.4,723.5 C769.8,722.8 779.9,722.3 783.2,721.7 C786.6,721.1 796.7,717.9 800.1,717.2 C803.4,716.6 813.5,715.1 816.9,715.2 C820.3,715.3 830.4,716.9 833.8,718.0 C837.1,719.1 847.2,724.2 850.6,726.5 C854.0,728.8 864.1,737.4 867.4,740.6 C870.8,743.8 880.9,755.7 884.3,758.9 C887.7,762.1 897.8,771.5 901.1,773.0 C904.5,774.5 914.6,775.5 918.0,774.4 C921.3,773.3 931.4,764.4 934.8,761.7 C938.2,759.0 948.3,750.2 951.7,747.7 C955.0,745.2 965.1,738.4 968.5,736.4 C971.9,734.4 982.0,729.3 985.3,727.9 C988.7,726.5 998.8,722.6 1002.2,722.3 C1005.5,722.0 1015.7,723.4 1019.0,724.5 C1022.4,725.6 1032.5,731.7 1035.9,733.6 C1039.2,735.5 1049.3,742.5 1052.7,743.4 C1056.1,744.3 1066.2,743.6 1069.5,742.6 C1072.9,741.6 1083.0,736.4 1086.4,733.6 C1089.8,730.8 1101.5,716.3 1103.2,714.4" fill="none" stroke="#E0891A" stroke-width="1.0" stroke-linejoin="round" shape-rendering="crispEdges"/>
<path d="M8.5,721.2 C9.3,721.7 23.7,729.8 25.3,730.2 C27.0,730.6 40.5,728.5 42.2,728.5 C43.9,728.5 57.3,729.6 59.0,729.6 C60.7,729.6 74.2,729.1 75.9,729.0 C77.6,728.9 91.0,728.7 92.7,728.5 C94.4,728.3 107.9,725.5 109.6,725.1 C111.2,724.7 124.7,721.3 126.4,721.2 C128.1,721.1 141.6,722.0 143.2,722.3 C144.9,722.6 158.4,726.6 160.1,726.5 C161.8,726.4 175.2,721.5 176.9,721.2 C178.6,720.9 192.1,720.8 193.8,721.2 C195.4,721.6 208.9,727.4 210.6,728.5 C212.3,729.6 225.8,741.5 227.4,742.9 C229.1,744.3 242.6,754.6 244.3,756.1 C246.0,757.6 259.4,771.9 261.1,773.0 C262.8,774.1 276.3,778.0 278.0,778.1 C279.7,778.2 293.1,776.1 294.8,775.8 C296.5,775.5 310.0,771.8 311.7,771.3 C313.3,770.8 326.8,767.4 328.5,766.8 C330.2,766.2 343.7,760.5 345.3,760.0 C347.0,759.5 360.5,756.6 362.2,756.1 C363.9,755.6 377.3,749.7 379.0,749.1 C380.7,748.5 394.2,745.4 395.9,744.8 C397.6,744.2 411.0,738.7 412.7,737.7 C414.4,736.7 427.9,725.8 429.5,725.1 C431.2,724.4 444.7,722.9 446.4,723.1 C448.1,723.3 461.5,728.0 463.2,728.5 C464.9,729.0 478.4,733.8 480.1,734.1 C481.8,734.4 495.2,734.2 496.9,734.1 C498.6,734.0 512.1,731.4 513.8,731.3 C515.4,731.2 528.9,731.2 530.6,731.3 C532.3,731.4 545.8,733.2 547.4,733.6 C549.1,734.0 562.6,738.2 564.3,738.6 C566.0,739.0 579.4,740.4 581.1,740.6 C582.8,740.8 596.3,742.3 598.0,742.6 C599.7,742.9 613.1,746.5 614.8,746.5 C616.5,746.5 630.0,743.8 631.7,743.4 C633.3,743.0 646.8,738.9 648.5,738.6 C650.2,738.3 663.7,737.9 665.3,737.6 C667.0,737.3 680.5,733.1 682.2,733.0 C683.9,732.9 697.3,734.5 699.0,734.7 C700.7,734.9 714.2,736.3 715.9,736.2 C717.5,736.1 731.0,733.6 732.7,733.0 C734.4,732.4 747.9,724.8 749.5,724.3 C751.2,723.8 764.7,722.5 766.4,722.3 C768.1,722.1 781.5,720.7 783.2,720.3 C784.9,719.9 798.4,715.5 800.1,715.2 C801.8,714.9 815.2,714.0 816.9,714.4 C818.6,714.8 832.1,721.3 833.8,722.3 C835.4,723.3 848.9,732.2 850.6,733.6 C852.3,735.0 865.8,748.1 867.4,749.9 C869.1,751.7 882.6,768.3 884.3,769.6 C886.0,770.9 899.4,776.7 901.1,776.7 C902.8,776.7 916.3,770.8 918.0,769.6 C919.7,768.4 933.1,753.4 934.8,751.9 C936.5,750.4 950.0,740.8 951.7,739.8 C953.3,738.8 966.8,732.1 968.5,731.3 C970.2,730.5 983.7,724.8 985.3,724.3 C987.0,723.8 1000.5,720.2 1002.2,720.3 C1003.9,720.4 1017.3,725.8 1019.0,726.8 C1020.7,727.8 1034.2,738.8 1035.9,739.8 C1037.5,740.8 1051.0,746.0 1052.7,746.0 C1054.4,746.0 1067.9,740.2 1069.5,739.2 C1071.2,738.2 1084.7,728.0 1086.4,726.2 C1088.1,724.4 1102.4,705.1 1103.2,704.0" fill="none" stroke="#FF00FF" stroke-width="1.0" stroke-linejoin="round" shape-rendering="crispEdges"/>
<path d="M1016.0,711 h3.6 v5.500000000000045 h2.9 l-4.7,5.2 l-4.7,-5.2 h2.9 z" fill="#1DB954"/>
<path d="M1069.2,742.8 l4.7,5.2 h-2.9 v5.600000000000068 h-3.6 v-5.600000000000068 h-2.9 z" fill="#FF3E3E"/>
<line x1="1179" y1="105.5" x2="1184.2" y2="105.5" stroke="#1AABB0" stroke-width="1" shape-rendering="crispEdges"/>
<line x1="1179" y1="107.5" x2="1184.2" y2="107.5" stroke="#1AABB0" stroke-width="1" shape-rendering="crispEdges"/>
<line x1="1179" y1="109.5" x2="1191.0" y2="109.5" stroke="#1AABB0" stroke-width="1" shape-rendering="crispEdges"/>
<line x1="1179" y1="111.5" x2="1191.0" y2="111.5" stroke="#1AABB0" stroke-width="1" shape-rendering="crispEdges"/>
<line x1="1179" y1="113.5" x2="1194.0" y2="113.5" stroke="#1AABB0" stroke-width="1" shape-rendering="crispEdges"/>
<line x1="1179" y1="115.5" x2="1194.0" y2="115.5" stroke="#1AABB0" stroke-width="1" shape-rendering="crispEdges"/>
<line x1="1179" y1="117.5" x2="1194.0" y2="117.5" stroke="#1AABB0" stroke-width="1" shape-rendering="crispEdges"/>
<line x1="1179" y1="119.5" x2="1194.0" y2="119.5" stroke="#1AABB0" stroke-width="1" shape-rendering="crispEdges"/>
<line x1="1179" y1="121.5" x2="1197.2" y2="121.5" stroke="#1AABB0" stroke-width="1" shape-rendering="crispEdges"/>
<line x1="1179" y1="123.5" x2="1197.9" y2="123.5" stroke="#1AABB0" stroke-width="1" shape-rendering="crispEdges"/>
<line x1="1179" y1="125.5" x2="1197.9" y2="125.5" stroke="#1AABB0" stroke-width="1" shape-rendering="crispEdges"/>
<line x1="1179" y1="127.5" x2="1197.9" y2="127.5" stroke="#1AABB0" stroke-width="1" shape-rendering="crispEdges"/>
<line x1="1179" y1="129.5" x2="1197.9" y2="129.5" stroke="#1AABB0" stroke-width="1" shape-rendering="crispEdges"/>
<line x1="1179" y1="131.5" x2="1197.2" y2="131.5" stroke="#1AABB0" stroke-width="1" shape-rendering="crispEdges"/>
<line x1="1179" y1="133.5" x2="1216.3" y2="133.5" stroke="#1AABB0" stroke-width="1" shape-rendering="crispEdges"/>
<line x1="1179" y1="135.5" x2="1220.2" y2="135.5" stroke="#1AABB0" stroke-width="1" shape-rendering="crispEdges"/>
<line x1="1179" y1="137.5" x2="1220.2" y2="137.5" stroke="#1AABB0" stroke-width="1" shape-rendering="crispEdges"/>
<line x1="1183" y1="139.5" x2="1220.2" y2="139.5" stroke="#1AABB0" stroke-width="1" shape-rendering="crispEdges"/>
<line x1="1183" y1="141.5" x2="1220.2" y2="141.5" stroke="#1AABB0" stroke-width="1" shape-rendering="crispEdges"/>
<line x1="1183" y1="143.5" x2="1222.0" y2="143.5" stroke="#1AABB0" stroke-width="1" shape-rendering="crispEdges"/>
<line x1="1183" y1="145.5" x2="1222.0" y2="145.5" stroke="#1AABB0" stroke-width="1" shape-rendering="crispEdges"/>
<line x1="1183" y1="147.5" x2="1225.0" y2="147.5" stroke="#1AABB0" stroke-width="1" shape-rendering="crispEdges"/>
<line x1="1183" y1="149.5" x2="1225.0" y2="149.5" stroke="#1AABB0" stroke-width="1" shape-rendering="crispEdges"/>
<line x1="1183" y1="151.5" x2="1229.0" y2="151.5" stroke="#F24E4E" stroke-width="1" shape-rendering="crispEdges"/>
<line x1="1183" y1="153.5" x2="1229.0" y2="153.5" stroke="#F24E4E" stroke-width="1" shape-rendering="crispEdges"/>
<line x1="1183" y1="155.5" x2="1237.2" y2="155.5" stroke="#F24E4E" stroke-width="1" shape-rendering="crispEdges"/>
<line x1="1183" y1="157.5" x2="1239.0" y2="157.5" stroke="#F24E4E" stroke-width="1" shape-rendering="crispEdges"/>
<line x1="1183" y1="159.5" x2="1239.0" y2="159.5" stroke="#F24E4E" stroke-width="1" shape-rendering="crispEdges"/>
<line x1="1183" y1="161.5" x2="1234.0" y2="161.5" stroke="#F24E4E" stroke-width="1" shape-rendering="crispEdges"/>
<line x1="1183" y1="163.5" x2="1245.8" y2="163.5" stroke="#F24E4E" stroke-width="1" shape-rendering="crispEdges"/>
<line x1="1183" y1="165.5" x2="1245.8" y2="165.5" stroke="#F24E4E" stroke-width="1" shape-rendering="crispEdges"/>
<line x1="1185" y1="167.5" x2="1224.8" y2="167.5" stroke="#F24E4E" stroke-width="1" shape-rendering="crispEdges"/>
<line x1="1185" y1="169.5" x2="1226.5" y2="169.5" stroke="#F24E4E" stroke-width="1" shape-rendering="crispEdges"/>
<line x1="1185" y1="171.5" x2="1226.5" y2="171.5" stroke="#F24E4E" stroke-width="1" shape-rendering="crispEdges"/>
<line x1="1185" y1="173.5" x2="1235.6" y2="173.5" stroke="#F24E4E" stroke-width="1" shape-rendering="crispEdges"/>
<line x1="1185" y1="175.5" x2="1239.0" y2="175.5" stroke="#F24E4E" stroke-width="1" shape-rendering="crispEdges"/>
<line x1="1185" y1="177.5" x2="1239.0" y2="177.5" stroke="#F24E4E" stroke-width="1" shape-rendering="crispEdges"/>
<line x1="1185" y1="179.5" x2="1239.0" y2="179.5" stroke="#F24E4E" stroke-width="1" shape-rendering="crispEdges"/>
<line x1="1185" y1="181.5" x2="1236.8" y2="181.5" stroke="#F24E4E" stroke-width="1" shape-rendering="crispEdges"/>
<line x1="1185" y1="183.5" x2="1236.0" y2="183.5" stroke="#F24E4E" stroke-width="1" shape-rendering="crispEdges"/>
<line x1="1185" y1="185.5" x2="1230.8" y2="185.5" stroke="#F24E4E" stroke-width="1" shape-rendering="crispEdges"/>
<line x1="1185" y1="187.5" x2="1252.0" y2="187.5" stroke="#F24E4E" stroke-width="1" shape-rendering="crispEdges"/>
<line x1="1185" y1="189.5" x2="1252.8" y2="189.5" stroke="#F24E4E" stroke-width="1" shape-rendering="crispEdges"/>
<line x1="1185" y1="191.5" x2="1252.8" y2="191.5" stroke="#F24E4E" stroke-width="1" shape-rendering="crispEdges"/>
<line x1="1185" y1="193.5" x2="1252.2" y2="193.5" stroke="#F24E4E" stroke-width="1" shape-rendering="crispEdges"/>
<line x1="1185" y1="195.5" x2="1257.8" y2="195.5" stroke="#F24E4E" stroke-width="1" shape-rendering="crispEdges"/>
<line x1="1185" y1="197.5" x2="1257.8" y2="197.5" stroke="#F24E4E" stroke-width="1" shape-rendering="crispEdges"/>
<line x1="1185" y1="199.5" x2="1257.8" y2="199.5" stroke="#F24E4E" stroke-width="1" shape-rendering="crispEdges"/>
<line x1="1185" y1="201.5" x2="1253.5" y2="201.5" stroke="#F24E4E" stroke-width="1" shape-rendering="crispEdges"/>
<line x1="1185" y1="203.5" x2="1262.6" y2="203.5" stroke="#F24E4E" stroke-width="1" shape-rendering="crispEdges"/>
<line x1="1185" y1="205.5" x2="1267.2" y2="205.5" stroke="#F24E4E" stroke-width="1" shape-rendering="crispEdges"/>
<line x1="1185" y1="207.5" x2="1318.8" y2="207.5" stroke="#F24E4E" stroke-width="1" shape-rendering="crispEdges"/>
<line x1="1185" y1="209.5" x2="1318.8" y2="209.5" stroke="#F24E4E" stroke-width="1" shape-rendering="crispEdges"/>
<line x1="1185" y1="211.5" x2="1334.3" y2="211.5" stroke="#F24E4E" stroke-width="1" shape-rendering="crispEdges"/>
<line x1="1185" y1="213.5" x2="1337.0" y2="213.5" stroke="#F24E4E" stroke-width="1" shape-rendering="crispEdges"/>
<line x1="1185" y1="215.5" x2="1347.0" y2="215.5" stroke="#F24E4E" stroke-width="1" shape-rendering="crispEdges"/>
<line x1="1185" y1="217.5" x2="1362.0" y2="217.5" stroke="#F24E4E" stroke-width="1" shape-rendering="crispEdges"/>
<line x1="1185" y1="219.5" x2="1369.5" y2="219.5" stroke="#F24E4E" stroke-width="1" shape-rendering="crispEdges"/>
<line x1="1185" y1="221.5" x2="1377.3" y2="221.5" stroke="#F24E4E" stroke-width="1" shape-rendering="crispEdges"/>
<line x1="1185" y1="225.5" x2="1361.8" y2="225.5" stroke="#F24E4E" stroke-width="1" shape-rendering="crispEdges"/>
<line x1="1185" y1="227.5" x2="1361.8" y2="227.5" stroke="#F24E4E" stroke-width="1" shape-rendering="crispEdges"/>
<line x1="1185" y1="229.5" x2="1419.0" y2="229.5" stroke="#F24E4E" stroke-width="1" shape-rendering="crispEdges"/>
<line x1="1185" y1="231.5" x2="1419.0" y2="231.5" stroke="#F24E4E" stroke-width="1" shape-rendering="crispEdges"/>
<line x1="1185" y1="233.5" x2="1419.0" y2="233.5" stroke="#F24E4E" stroke-width="1" shape-rendering="crispEdges"/>
<line x1="1185" y1="235.5" x2="1392.0" y2="235.5" stroke="#F24E4E" stroke-width="1" shape-rendering="crispEdges"/>
<line x1="1185" y1="237.5" x2="1379.8" y2="237.5" stroke="#F24E4E" stroke-width="1" shape-rendering="crispEdges"/>
<line x1="1185" y1="239.5" x2="1356.6" y2="239.5" stroke="#F24E4E" stroke-width="1" shape-rendering="crispEdges"/>
<line x1="1185" y1="241.5" x2="1339.4" y2="241.5" stroke="#F24E4E" stroke-width="1" shape-rendering="crispEdges"/>
<line x1="1185" y1="243.5" x2="1335.0" y2="243.5" stroke="#F24E4E" stroke-width="1" shape-rendering="crispEdges"/>
<line x1="1185" y1="245.5" x2="1304.0" y2="245.5" stroke="#F24E4E" stroke-width="1" shape-rendering="crispEdges"/>
<line x1="1183" y1="247.5" x2="1266.4" y2="247.5" stroke="#F24E4E" stroke-width="1" shape-rendering="crispEdges"/>
<line x1="1183" y1="249.5" x2="1269.4" y2="249.5" stroke="#F24E4E" stroke-width="1" shape-rendering="crispEdges"/>
<line x1="1183" y1="251.5" x2="1269.4" y2="251.5" stroke="#F24E4E" stroke-width="1" shape-rendering="crispEdges"/>
<line x1="1183" y1="253.5" x2="1264.3" y2="253.5" stroke="#F24E4E" stroke-width="1" shape-rendering="crispEdges"/>
<line x1="1183" y1="255.5" x2="1255.2" y2="255.5" stroke="#F24E4E" stroke-width="1" shape-rendering="crispEdges"/>
<line x1="1183" y1="257.5" x2="1239.2" y2="257.5" stroke="#F24E4E" stroke-width="1" shape-rendering="crispEdges"/>
<line x1="1183" y1="259.5" x2="1238.0" y2="259.5" stroke="#F24E4E" stroke-width="1" shape-rendering="crispEdges"/>
<line x1="1183" y1="261.5" x2="1238.0" y2="261.5" stroke="#F24E4E" stroke-width="1" shape-rendering="crispEdges"/>
<line x1="1183" y1="263.5" x2="1230.6" y2="263.5" stroke="#F24E4E" stroke-width="1" shape-rendering="crispEdges"/>
<line x1="1179" y1="265.5" x2="1230.2" y2="265.5" stroke="#F24E4E" stroke-width="1" shape-rendering="crispEdges"/>
<line x1="1179" y1="267.5" x2="1230.2" y2="267.5" stroke="#F24E4E" stroke-width="1" shape-rendering="crispEdges"/>
<line x1="1179" y1="269.5" x2="1230.2" y2="269.5" stroke="#F24E4E" stroke-width="1" shape-rendering="crispEdges"/>
<line x1="1179" y1="271.5" x2="1219.0" y2="271.5" stroke="#F24E4E" stroke-width="1" shape-rendering="crispEdges"/>
<line x1="1179" y1="273.5" x2="1219.0" y2="273.5" stroke="#F24E4E" stroke-width="1" shape-rendering="crispEdges"/>
<line x1="1179" y1="275.5" x2="1217.3" y2="275.5" stroke="#F24E4E" stroke-width="1" shape-rendering="crispEdges"/>
<line x1="1179" y1="277.5" x2="1206.2" y2="277.5" stroke="#F24E4E" stroke-width="1" shape-rendering="crispEdges"/>
<line x1="1179" y1="279.5" x2="1204.8" y2="279.5" stroke="#F24E4E" stroke-width="1" shape-rendering="crispEdges"/>
<line x1="1179" y1="281.5" x2="1202.7" y2="281.5" stroke="#F24E4E" stroke-width="1" shape-rendering="crispEdges"/>
<line x1="1179" y1="283.5" x2="1201.0" y2="283.5" stroke="#F24E4E" stroke-width="1" shape-rendering="crispEdges"/>
<line x1="1179" y1="285.5" x2="1198.0" y2="285.5" stroke="#F24E4E" stroke-width="1" shape-rendering="crispEdges"/>
<line x1="1179" y1="287.5" x2="1191.9" y2="287.5" stroke="#F24E4E" stroke-width="1" shape-rendering="crispEdges"/>
<line x1="1179" y1="289.5" x2="1191.0" y2="289.5" stroke="#F24E4E" stroke-width="1" shape-rendering="crispEdges"/>
<line x1="1179" y1="291.5" x2="1181.2" y2="291.5" stroke="#F24E4E" stroke-width="1" shape-rendering="crispEdges"/>
<line x1="1179" y1="293.5" x2="1180.7" y2="293.5" stroke="#F24E4E" stroke-width="1" shape-rendering="crispEdges"/>
<line x1="1179" y1="295.5" x2="1180.0" y2="295.5" stroke="#F24E4E" stroke-width="1" shape-rendering="crispEdges"/>
<line x1="1225" y1="149.5" x2="1229" y2="149.5" stroke="#F24E4E" stroke-width="1" shape-rendering="crispEdges"/>
<line x1="1185" y1="223.5" x2="1380" y2="223.5" stroke="#F24E4E" stroke-width="1" shape-rendering="crispEdges"/>
<rect x="1180.0" y="140.0" width="2.0" height="27.5" fill="#FF00FF" />
<rect x="1180.0" y="167.5" width="1.2" height="78.5" fill="#FF00FF" />
<rect x="1180.0" y="246.0" width="2.0" height="18.0" fill="#FF00FF" />
<rect x="1182.0" y="168.0" width="2.0" height="78.0" fill="#FF00FF" />
<rect x="1185.0" y="213.0" width="141.5" height="3.0" fill="#D6D616" />
<line x1="1179" y1="223.5" x2="1419" y2="223.5" stroke="#444" stroke-width="1" shape-rendering="crispEdges"/>
<rect x="1279.0" y="721.0" width="120.0" height="14.0" fill="#F45050" />
<rect x="1399.0" y="721.0" width="10.0" height="14.0" fill="#00A9A7" />
<line x1="1178.5" y1="0" x2="1178.5" y2="822" stroke="#D3D8EC" stroke-width="1" shape-rendering="crispEdges"/>
<line x1="1179" y1="50.5" x2="1419" y2="50.5" stroke="#D3D8EC" stroke-width="1" shape-rendering="crispEdges"/>
<line x1="0" y1="22.5" x2="1178" y2="22.5" stroke="#E2E5F3" stroke-width="1" shape-rendering="crispEdges"/>
<path d="M1073,29.5 h-5.2 a3.7,3.7 0 0 0 0,7.4 h5.6" fill="none" stroke="#5A5A5A" stroke-width="1.9"/><path d="M1070.6,26.1 l3.6,3.4 l-3.6,3.4" fill="none" stroke="#5A5A5A" stroke-width="1.9" stroke-linejoin="miter"/>
<circle cx="1089" cy="31.7" r="5.3" fill="#5A5A5A"/><path d="M1086,31.7 h6 M1089,28.7 v6" stroke="#fff" stroke-width="2"/>
<circle cx="1109" cy="31.7" r="5.3" fill="#5A5A5A"/><path d="M1105.8,31.7 h6.4" stroke="#fff" stroke-width="2"/>
<circle cx="1129" cy="31.7" r="4.5" fill="#5A5A5A"/><rect x="1127.1" y="26.1" width="3.8" height="3" rx="0.9" fill="#5A5A5A" transform="rotate(30 1129 31.7)"/><rect x="1127.1" y="26.1" width="3.8" height="3" rx="0.9" fill="#5A5A5A" transform="rotate(90 1129 31.7)"/><rect x="1127.1" y="26.1" width="3.8" height="3" rx="0.9" fill="#5A5A5A" transform="rotate(150 1129 31.7)"/><rect x="1127.1" y="26.1" width="3.8" height="3" rx="0.9" fill="#5A5A5A" transform="rotate(210 1129 31.7)"/><rect x="1127.1" y="26.1" width="3.8" height="3" rx="0.9" fill="#5A5A5A" transform="rotate(270 1129 31.7)"/><rect x="1127.1" y="26.1" width="3.8" height="3" rx="0.9" fill="#5A5A5A" transform="rotate(330 1129 31.7)"/><circle cx="1129" cy="31.7" r="2.75" fill="#fff"/><circle cx="1129" cy="31.7" r="1.2" fill="#5A5A5A"/>
<circle cx="1149" cy="31.7" r="5.3" fill="#5A5A5A"/><text x="1149" y="35.4" font-size="10.5" font-weight="bold" fill="#fff" text-anchor="middle" font-family="Liberation Sans, sans-serif">?</text>
<circle cx="1169" cy="31.7" r="5.3" fill="#5A5A5A"/><path d="M1166.7,29.4 l4.6,4.6 M1171.3,29.4 l-4.6,4.6" stroke="#fff" stroke-width="2.1"/>
<circle cx="1128" cy="370.3" r="4.5" fill="#5A5A5A"/><rect x="1126.1" y="364.7" width="3.8" height="3" rx="0.9" fill="#5A5A5A" transform="rotate(30 1128 370.3)"/><rect x="1126.1" y="364.7" width="3.8" height="3" rx="0.9" fill="#5A5A5A" transform="rotate(90 1128 370.3)"/><rect x="1126.1" y="364.7" width="3.8" height="3" rx="0.9" fill="#5A5A5A" transform="rotate(150 1128 370.3)"/><rect x="1126.1" y="364.7" width="3.8" height="3" rx="0.9" fill="#5A5A5A" transform="rotate(210 1128 370.3)"/><rect x="1126.1" y="364.7" width="3.8" height="3" rx="0.9" fill="#5A5A5A" transform="rotate(270 1128 370.3)"/><rect x="1126.1" y="364.7" width="3.8" height="3" rx="0.9" fill="#5A5A5A" transform="rotate(330 1128 370.3)"/><circle cx="1128" cy="370.3" r="2.75" fill="#fff"/><circle cx="1128" cy="370.3" r="1.2" fill="#5A5A5A"/>
<circle cx="1148.5" cy="370.3" r="5.3" fill="#5A5A5A"/><text x="1148.5" y="374.0" font-size="10.5" font-weight="bold" fill="#fff" text-anchor="middle" font-family="Liberation Sans, sans-serif">?</text>
<circle cx="1168" cy="370.3" r="5.3" fill="#5A5A5A"/><path d="M1165.7,368.0 l4.6,4.6 M1170.3,368.0 l-4.6,4.6" stroke="#fff" stroke-width="2.1"/>
<circle cx="1128" cy="476.3" r="4.5" fill="#5A5A5A"/><rect x="1126.1" y="470.7" width="3.8" height="3" rx="0.9" fill="#5A5A5A" transform="rotate(30 1128 476.3)"/><rect x="1126.1" y="470.7" width="3.8" height="3" rx="0.9" fill="#5A5A5A" transform="rotate(90 1128 476.3)"/><rect x="1126.1" y="470.7" width="3.8" height="3" rx="0.9" fill="#5A5A5A" transform="rotate(150 1128 476.3)"/><rect x="1126.1" y="470.7" width="3.8" height="3" rx="0.9" fill="#5A5A5A" transform="rotate(210 1128 476.3)"/><rect x="1126.1" y="470.7" width="3.8" height="3" rx="0.9" fill="#5A5A5A" transform="rotate(270 1128 476.3)"/><rect x="1126.1" y="470.7" width="3.8" height="3" rx="0.9" fill="#5A5A5A" transform="rotate(330 1128 476.3)"/><circle cx="1128" cy="476.3" r="2.75" fill="#fff"/><circle cx="1128" cy="476.3" r="1.2" fill="#5A5A5A"/>
<circle cx="1148.5" cy="476.3" r="5.3" fill="#5A5A5A"/><text x="1148.5" y="480.0" font-size="10.5" font-weight="bold" fill="#fff" text-anchor="middle" font-family="Liberation Sans, sans-serif">?</text>
<circle cx="1168" cy="476.3" r="5.3" fill="#5A5A5A"/><path d="M1165.7,474.0 l4.6,4.6 M1170.3,474.0 l-4.6,4.6" stroke="#fff" stroke-width="2.1"/>
<circle cx="1128" cy="582.3" r="4.5" fill="#5A5A5A"/><rect x="1126.1" y="576.6999999999999" width="3.8" height="3" rx="0.9" fill="#5A5A5A" transform="rotate(30 1128 582.3)"/><rect x="1126.1" y="576.6999999999999" width="3.8" height="3" rx="0.9" fill="#5A5A5A" transform="rotate(90 1128 582.3)"/><rect x="1126.1" y="576.6999999999999" width="3.8" height="3" rx="0.9" fill="#5A5A5A" transform="rotate(150 1128 582.3)"/><rect x="1126.1" y="576.6999999999999" width="3.8" height="3" rx="0.9" fill="#5A5A5A" transform="rotate(210 1128 582.3)"/><rect x="1126.1" y="576.6999999999999" width="3.8" height="3" rx="0.9" fill="#5A5A5A" transform="rotate(270 1128 582.3)"/><rect x="1126.1" y="576.6999999999999" width="3.8" height="3" rx="0.9" fill="#5A5A5A" transform="rotate(330 1128 582.3)"/><circle cx="1128" cy="582.3" r="2.75" fill="#fff"/><circle cx="1128" cy="582.3" r="1.2" fill="#5A5A5A"/>
<circle cx="1148.5" cy="582.3" r="5.3" fill="#5A5A5A"/><text x="1148.5" y="586.0" font-size="10.5" font-weight="bold" fill="#fff" text-anchor="middle" font-family="Liberation Sans, sans-serif">?</text>
<circle cx="1168" cy="582.3" r="5.3" fill="#5A5A5A"/><path d="M1165.7,580.0 l4.6,4.6 M1170.3,580.0 l-4.6,4.6" stroke="#fff" stroke-width="2.1"/>
<circle cx="1128" cy="688.3" r="4.5" fill="#5A5A5A"/><rect x="1126.1" y="682.6999999999999" width="3.8" height="3" rx="0.9" fill="#5A5A5A" transform="rotate(30 1128 688.3)"/><rect x="1126.1" y="682.6999999999999" width="3.8" height="3" rx="0.9" fill="#5A5A5A" transform="rotate(90 1128 688.3)"/><rect x="1126.1" y="682.6999999999999" width="3.8" height="3" rx="0.9" fill="#5A5A5A" transform="rotate(150 1128 688.3)"/><rect x="1126.1" y="682.6999999999999" width="3.8" height="3" rx="0.9" fill="#5A5A5A" transform="rotate(210 1128 688.3)"/><rect x="1126.1" y="682.6999999999999" width="3.8" height="3" rx="0.9" fill="#5A5A5A" transform="rotate(270 1128 688.3)"/><rect x="1126.1" y="682.6999999999999" width="3.8" height="3" rx="0.9" fill="#5A5A5A" transform="rotate(330 1128 688.3)"/><circle cx="1128" cy="688.3" r="2.75" fill="#fff"/><circle cx="1128" cy="688.3" r="1.2" fill="#5A5A5A"/>
<circle cx="1148.5" cy="688.3" r="5.3" fill="#5A5A5A"/><text x="1148.5" y="692.0" font-size="10.5" font-weight="bold" fill="#fff" text-anchor="middle" font-family="Liberation Sans, sans-serif">?</text>
<circle cx="1168" cy="688.3" r="5.3" fill="#5A5A5A"/><path d="M1165.7,686.0 l4.6,4.6 M1170.3,686.0 l-4.6,4.6" stroke="#fff" stroke-width="2.1"/>
<circle cx="112" cy="32.5" r="5.3" fill="#F4F7FB" stroke="#7F95B0" stroke-width="1"/><path d="M108.8,31 h6.4 l-3.2,3.8z" fill="#333"/>
<path d="M9.5,6.5 l4.5,4.5 l-4.5,4.5 M14.5,6.5 l4.5,4.5 l-4.5,4.5" fill="none" stroke="#555" stroke-width="1.2"/>
<path d="M1158.5,6.5 l4.5,4.5 l-4.5,4.5 M1163.5,6.5 l4.5,4.5 l-4.5,4.5" fill="none" stroke="#555" stroke-width="1.2"/>
<path d="M269,28.4 l2.9,3.7 h-1.2 v3.9 h-3.4 v-3.9 h-1.2 z" fill="#FB1C1C"/>
<path d="M377,28.4 l2.9,3.7 h-1.2 v3.9 h-3.4 v-3.9 h-1.2 z" fill="#FB1C1C"/>
<path d="M461,28.4 l2.9,3.7 h-1.2 v3.9 h-3.4 v-3.9 h-1.2 z" fill="#FB1C1C"/>
<path d="M172,472.4 l2.9,3.7 h-1.2 v3.9 h-3.4 v-3.9 h-1.2 z" fill="#FB1C1C"/>
<path d="M100.5,578.4 l2.9,3.7 h-1.2 v3.9 h-3.4 v-3.9 h-1.2 z" fill="#FB1C1C"/>
<path d="M110,684.4 l2.9,3.7 h-1.2 v3.9 h-3.4 v-3.9 h-1.2 z" fill="#FB1C1C"/>
<path d="M173.4,684.4 l2.9,3.7 h-1.2 v3.9 h-3.4 v-3.9 h-1.2 z" fill="#FB1C1C"/>
<path d="M178,107.3 h8 M178,107.3 l2.5,-2 M178,107.3 l2.5,2" stroke="#1F3A5F" stroke-width="1" fill="none"/>
<path d="M891.2,288.7 h8.5 M899.7,288.7 l-2.5,-2 M899.7,288.7 l-2.5,2" stroke="#1F3A5F" stroke-width="1" fill="none"/>
<path d="M69.3,9.7 h6.8 l-3.4,3.9z" fill="#333"/>
<path d="M297.1,9.7 h6.8 l-3.4,3.9z" fill="#333"/>
<path d="M838.0,9.7 h6.8 l-3.4,3.9z" fill="#333"/>
<path d="M987.0,9.7 h6.8 l-3.4,3.9z" fill="#333"/>
<path d="M1033.1,9.7 h6.8 l-3.4,3.9z" fill="#333"/>
<path d="M1089,11 h9.5 M1093.75,6.2 v9.6" stroke="#2A66F0" stroke-width="1.8"/>
<path d="M1136.6,9.7 h6.8 l-3.4,3.9z" fill="#333"/>
</svg>
<div class="t" style="top:3.5px;height:15px;line-height:15px;font-size:11px;color:#222;left:-53.0px;width:200px;text-align:center;">分时</div>
<div class="t" style="top:3.5px;height:15px;line-height:15px;font-size:11px;color:#3B6FE6;left:-2.1500000000000057px;width:200px;text-align:center;">日线</div>
<div class="t" style="top:3.5px;height:15px;line-height:15px;font-size:11px;color:#222;left:35.0px;width:200px;text-align:center;"><span style="letter-spacing:-0.27px">30</span>分</div>
<div class="t" style="top:3.5px;height:15px;line-height:15px;font-size:11px;color:#222;left:72.44999999999999px;width:200px;text-align:center;"><span style="letter-spacing:-0.27px">60</span>分</div>
<div class="t" style="top:3.5px;height:15px;line-height:15px;font-size:11px;color:#222;left:109.4px;width:200px;text-align:center;">周线</div>
<div class="t" style="top:3.5px;height:15px;line-height:15px;font-size:11px;color:#222;left:146.25px;width:200px;text-align:center;">月线</div>
<div class="t" style="top:3.5px;height:15px;line-height:15px;font-size:11px;color:#222;left:183.10000000000002px;width:200px;text-align:center;">更多</div>
<div class="t" style="top:3.5px;height:15px;line-height:15px;font-size:11px;color:#222;left:722.7px;width:200px;text-align:center;">交易</div>
<div class="t" style="top:3.5px;height:15px;line-height:15px;font-size:11px;color:#222;left:777.9px;width:200px;text-align:center;">龙头回溯</div>
<div class="t" style="top:3.5px;height:15px;line-height:15px;font-size:11px;color:#222;left:823.95px;width:200px;text-align:center;">九转</div>
<div class="t" style="top:3.5px;height:15px;line-height:15px;font-size:11px;color:#222;left:866.15px;width:200px;text-align:center;">前复权</div>
<div class="t" style="top:3.5px;height:15px;line-height:15px;font-size:11px;color:#222;left:917.7px;width:200px;text-align:center;">叠加</div>
<div class="t" style="top:3.5px;height:15px;line-height:15px;font-size:11px;color:#222;left:963.8499999999999px;width:200px;text-align:center;">画线</div>
<div class="t" style="top:2.0px;height:18px;line-height:18px;font-size:13px;color:#222;left:1103px;">自选</div>
<div class="t" style="top:25.0px;height:15px;line-height:15px;font-size:11px;color:#222;left:7px;"><span style="letter-spacing:-0.27px">880041 </span>商业零售</div>
<div class="t" style="top:25.0px;height:15px;line-height:15px;font-size:11px;color:#5E5E5E;left:120.5px;">智能辅助</div>
<div class="t" style="top:25.0px;height:15px;line-height:15px;font-size:11px;color:#EE9612;left:175.2px;"><span style="letter-spacing:-0.27px">HHJSJDB:927.379</span></div>
<div class="t" style="top:25.0px;height:15px;line-height:15px;font-size:11px;color:#FF3030;left:284.2px;"><span style="letter-spacing:-0.27px">HHJSJDC:923.386</span></div>
<div class="t" style="top:25.0px;height:15px;line-height:15px;font-size:11px;color:#E88A10;left:392.4px;">乖离率<span style="letter-spacing:-0.27px">:5.827</span></div>
<div class="t" style="top:42.5px;height:15px;line-height:15px;font-size:10.7px;color:#222;left:1137px;"><span style="letter-spacing:-0.1px">1049.16</span></div>
<div class="t" style="top:80.5px;height:15px;line-height:15px;font-size:10.7px;color:#222;left:1137px;"><span style="letter-spacing:-0.1px">1023.45</span></div>
<div class="t" style="top:118.5px;height:15px;line-height:15px;font-size:10.7px;color:#222;left:1137px;"><span style="letter-spacing:-0.27px">997.73</span></div>
<div class="t" style="top:156.5px;height:15px;line-height:15px;font-size:10.7px;color:#222;left:1137px;"><span style="letter-spacing:-0.27px">972.02</span></div>
<div class="t" style="top:194.5px;height:15px;line-height:15px;font-size:10.7px;color:#222;left:1137px;"><span style="letter-spacing:-0.27px">946.30</span></div>
<div class="t" style="top:232.5px;height:15px;line-height:15px;font-size:10.7px;color:#222;left:1137px;"><span style="letter-spacing:-0.27px">920.59</span></div>
<div class="t" style="top:270.5px;height:15px;line-height:15px;font-size:10.7px;color:#222;left:1137px;"><span style="letter-spacing:-0.27px">894.87</span></div>
<div class="t" style="top:308.5px;height:15px;line-height:15px;font-size:10.7px;color:#222;left:1137px;"><span style="letter-spacing:-0.27px">869.16</span></div>
<div class="t" style="top:346.5px;height:15px;line-height:15px;font-size:10.7px;color:#222;left:1137px;"><span style="letter-spacing:-0.27px">843.45</span></div>
<div class="t" style="top:190.8px;height:15px;line-height:15px;font-size:10.9px;color:#1F3A5F;left:1095.5px;"><span style="letter-spacing:-0.2px">954.71-971.38</span></div>
<div class="t" style="top:99.8px;height:15px;line-height:15px;font-size:10.7px;color:#1F3A5F;left:187px;"><span style="letter-spacing:-0.27px">1010.58</span></div>
<div class="t" style="top:281.2px;height:15px;line-height:15px;font-size:10.9px;color:#1F3A5F;left:859px;"><span style="letter-spacing:-0.15px">887.68</span></div>
<div class="t" style="top:393.5px;height:15px;line-height:15px;font-size:10.7px;color:#222;left:1135px;"><span style="letter-spacing:-0.27px">26.46</span></div>
<div class="t" style="top:414.5px;height:15px;line-height:15px;font-size:10.7px;color:#222;left:1135px;"><span style="letter-spacing:-0.27px">23.28</span></div>
<div class="t" style="top:435.5px;height:15px;line-height:15px;font-size:10.7px;color:#222;left:1135px;"><span style="letter-spacing:-0.27px">20.10</span></div>
<div class="t" style="top:448.0px;height:18px;line-height:18px;font-size:13px;color:#222;left:1136px;">X亿</div>
<div class="t" style="top:499.5px;height:15px;line-height:15px;font-size:10.7px;color:#222;left:1135px;"><span style="letter-spacing:-0.27px">39.68</span></div>
<div class="t" style="top:520.5px;height:15px;line-height:15px;font-size:10.7px;color:#222;left:1135px;"><span style="letter-spacing:-0.27px">20.98</span></div>
<div class="t" style="top:541.5px;height:15px;line-height:15px;font-size:10.7px;color:#222;left:1135px;"><span style="letter-spacing:-0.27px">2.29</span></div>
<div class="t" style="top:554.0px;height:18px;line-height:18px;font-size:13px;color:#222;left:1136px;">X万</div>
<div class="t" style="top:605.5px;height:15px;line-height:15px;font-size:10.7px;color:#222;left:1135px;"><span style="letter-spacing:-0.27px">277.94</span></div>
<div class="t" style="top:626.5px;height:15px;line-height:15px;font-size:10.7px;color:#222;left:1135px;"><span style="letter-spacing:-0.27px">185.29</span></div>
<div class="t" style="top:647.5px;height:15px;line-height:15px;font-size:10.7px;color:#222;left:1135px;"><span style="letter-spacing:-0.27px">92.65</span></div>
<div class="t" style="top:660.0px;height:18px;line-height:18px;font-size:13px;color:#222;left:1136px;">X亿</div>
<div class="t" style="top:711.5px;height:15px;line-height:15px;font-size:10.7px;color:#222;left:1135px;"><span style="letter-spacing:-0.27px">0.47</span></div>
<div class="t" style="top:732.5px;height:15px;line-height:15px;font-size:10.7px;color:#222;left:1135px;"><span style="letter-spacing:-0.27px">-0.11</span></div>
<div class="t" style="top:753.5px;height:15px;line-height:15px;font-size:10.7px;color:#222;left:1135px;"><span style="letter-spacing:-0.27px">-0.69</span></div>
<div class="t" style="top:362.8px;height:15px;line-height:15px;font-size:11px;color:#555;left:8px;">流动资金</div>
<div class="t" style="top:362.8px;height:15px;line-height:15px;font-size:11px;color:#666;left:817px;width:300px;text-align:right;">流动资金</div>
<div class="t" style="top:468.8px;height:15px;line-height:15px;font-size:11px;color:#555;left:8px;">主力净买额</div>
<div class="t" style="top:468.8px;height:15px;line-height:15px;font-size:11px;color:#666;left:817px;width:300px;text-align:right;">主力净买额</div>
<div class="t" style="top:574.8px;height:15px;line-height:15px;font-size:11px;color:#555;left:8px;">成交额</div>
<div class="t" style="top:574.8px;height:15px;line-height:15px;font-size:11px;color:#666;left:817px;width:300px;text-align:right;">成交额</div>
<div class="t" style="top:680.8px;height:15px;line-height:15px;font-size:11px;color:#555;left:8px;">捕捞季节</div>
<div class="t" style="top:680.8px;height:15px;line-height:15px;font-size:11px;color:#666;left:817px;width:300px;text-align:right;">捕捞季节</div>
<div class="t" style="top:468.8px;height:15px;line-height:15px;font-size:11px;color:#F51818;left:72.6px;">主力净买额:338458</div>
<div class="t" style="top:574.8px;height:15px;line-height:15px;font-size:11px;color:#222;left:51.5px;"><span style="letter-spacing:-0.27px">280.70</span>亿</div>
<div class="t" style="top:680.8px;height:15px;line-height:15px;font-size:11px;color:#F09A1A;left:62px;"><span style="letter-spacing:-0.27px">X1:0.603</span></div>
<div class="t" style="top:680.8px;height:15px;line-height:15px;font-size:11px;color:#FF00FF;left:124.5px;"><span style="letter-spacing:-0.27px">X2:0.919</span></div>
<div class="t" style="top:680.8px;height:15px;line-height:15px;font-size:11px;color:#12A12E;left:188px;">彩柱数<span style="letter-spacing:-0.27px">:0.000</span></div>
<div class="t" style="top:786.8px;height:15px;line-height:15px;font-size:11px;color:#222;left:260.5px;width:200px;text-align:center;"><span style="letter-spacing:-0.27px">10</span>月</div>
<div class="t" style="top:786.8px;height:15px;line-height:15px;font-size:11px;color:#222;left:547.5px;width:200px;text-align:center;"><span style="letter-spacing:-0.27px">11</span>月</div>
<div class="t" style="top:786.8px;height:15px;line-height:15px;font-size:11px;color:#222;left:884.5px;width:200px;text-align:center;"><span style="letter-spacing:-0.27px">12</span>月</div>
<div class="t" style="top:786.0px;height:15px;line-height:15px;font-size:11px;color:#222;left:1055.5px;width:200px;text-align:center;">日线</div>
<div class="t" style="top:803.0px;height:16px;line-height:16px;font-size:11.1px;color:#222;left:-79.5px;width:200px;text-align:center;">默认</div>
<div class="t" style="top:803.0px;height:16px;line-height:16px;font-size:11.1px;color:#222;left:-30.700000000000003px;width:200px;text-align:center;">选股</div>
<div class="t" style="top:803.0px;height:16px;line-height:16px;font-size:11.1px;color:#3B6FE6;left:27.799999999999997px;width:200px;text-align:center;">趋势</div>
<div class="t" style="top:803.0px;height:16px;line-height:16px;font-size:11.1px;color:#222;left:87.05000000000001px;width:200px;text-align:center;">资金趋势</div>
<div class="t" style="top:803.0px;height:16px;line-height:16px;font-size:11.1px;color:#222;left:146.6px;width:200px;text-align:center;">内参</div>
<div class="t" style="top:803.0px;height:16px;line-height:16px;font-size:11.1px;color:#222;left:205.45px;width:200px;text-align:center;">传统</div>
<div class="t" style="top:803.0px;height:16px;line-height:16px;font-size:11.1px;color:#222;left:264.15px;width:200px;text-align:center;">短线</div>
<div class="t" style="top:803.0px;height:16px;line-height:16px;font-size:11.1px;color:#222;left:322.9px;width:200px;text-align:center;">资金</div>
<div class="t" style="top:803.0px;height:16px;line-height:16px;font-size:11.1px;color:#222;left:381.95px;width:200px;text-align:center;">资金起爆</div>
<div class="t" style="top:803.0px;height:16px;line-height:16px;font-size:11.1px;color:#222;left:435.5px;width:200px;text-align:center;">三板斧</div>
<div class="t" style="top:803.0px;height:16px;line-height:16px;font-size:11.1px;color:#222;left:489.15px;width:200px;text-align:center;">控盘突破</div>
<div class="t" style="top:803.0px;height:16px;line-height:16px;font-size:11.1px;color:#222;left:548.4px;width:200px;text-align:center;">猎手看盘</div>
<div class="t" style="top:803.0px;height:16px;line-height:16px;font-size:11.1px;color:#222;left:607.6px;width:200px;text-align:center;">常规选股</div>
<div class="t" style="top:803.0px;height:16px;line-height:16px;font-size:11.1px;color:#222;left:666.45px;width:200px;text-align:center;">超跌</div>
<div class="t" style="top:803.0px;height:16px;line-height:16px;font-size:11.1px;color:#222;left:725.3px;width:200px;text-align:center;">智能网格</div>
<div class="t" style="top:803.0px;height:16px;line-height:16px;font-size:11.5px;color:#3B6FE6;left:979.0px;width:200px;text-align:center;">保存</div>
<div class="t" style="top:803.0px;height:16px;line-height:16px;font-size:11.5px;color:#3B6FE6;left:1017.8px;width:200px;text-align:center;">管理</div>
<div class="t" style="top:803.0px;height:16px;line-height:16px;font-size:11.5px;color:#3B6FE6;left:1056.9px;width:200px;text-align:center;">战法</div>
<div class="t" style="top:1.0px;height:24px;line-height:24px;font-size:16.8px;color:#111;font-weight:bold;left:1186px;"><span style="letter-spacing:-0.27px">880041 </span>商业零售</div>
<div class="t" style="top:24.5px;height:23px;line-height:23px;font-size:16.5px;color:#F01010;font-weight:bold;left:1186px;letter-spacing:0.5px;">981.42</div>
<div class="t" style="top:27.0px;height:19px;line-height:19px;font-size:13.5px;color:#F01010;font-weight:bold;left:1246px;letter-spacing:0.4px;">+2.94%</div>
<div class="t" style="top:27.0px;height:19px;line-height:19px;font-size:13.5px;color:#F01010;font-weight:bold;left:1300.5px;letter-spacing:0.33px;">+28.00</div>
<div class="t" style="top:206.3px;height:16px;line-height:16px;font-size:11.2px;color:#333;left:1346px;">套牢:52.47%</div>
<div class="t" style="top:224.0px;height:16px;line-height:16px;font-size:11.2px;color:#333;left:1346px;">获利:47.53%</div>
<div class="t" style="top:672.8px;height:15px;line-height:15px;font-size:11px;color:#111;left:1184.5px;">时　　间<span style="letter-spacing:0.1px">:2025-12-10</span></div>
<div class="t" style="top:688.8px;height:15px;line-height:15px;font-size:11px;color:#111;left:1184.5px;">收盘获利<span style="letter-spacing:0.1px">:92.48%</span></div>
<div class="t" style="top:704.8px;height:15px;line-height:15px;font-size:11px;color:#111;left:1184.5px;"><span style="letter-spacing:0.1px">931.42</span>处获利盘<span style="letter-spacing:0.1px">:50.45%</span></div>
<div class="t" style="top:720.8px;height:15px;line-height:15px;font-size:11px;color:#111;left:1184.5px;">获利比例<span style="letter-spacing:0.1px">:92.48%</span></div>
<div class="t" style="top:736.8px;height:15px;line-height:15px;font-size:11px;color:#111;left:1184.5px;">平均成本<span style="letter-spacing:0.1px">:937.91</span></div>
<div class="t" style="top:752.8px;height:15px;line-height:15px;font-size:11px;color:#111;left:1184.5px;"><span style="letter-spacing:0.1px">90%</span>筹码<span style="letter-spacing:0.1px">:904.51-988.60+ </span>集中度<span style="letter-spacing:0.1px">:4.44</span></div>
<div class="t" style="top:768.8px;height:15px;line-height:15px;font-size:11px;color:#111;left:1184.5px;"><span style="letter-spacing:0.1px">70%</span>筹码<span style="letter-spacing:0.1px">:916.27-969.68+ </span>集中度<span style="letter-spacing:0.1px">:2.83</span></div>
<div class="t" style="top:784.8px;height:15px;line-height:15px;font-size:11px;color:#111;left:1184.5px;">筹码乖离<span style="letter-spacing:0.1px">:4.64</span></div>
<div class="t" style="top:801.0px;height:20px;line-height:20px;font-size:14px;color:#333;left:1102.5px;width:200px;text-align:center;">报价</div>
<div class="t" style="top:801.0px;height:20px;line-height:20px;font-size:14px;color:#333;left:1150.5px;width:200px;text-align:center;">资金</div>
<div class="t" style="top:801.0px;height:20px;line-height:20px;font-size:14px;color:#333;left:1198.5px;width:200px;text-align:center;">贡献</div>
<div class="t" style="top:801.0px;height:20px;line-height:20px;font-size:14px;color:#333;left:1246.7px;width:200px;text-align:center;">分价</div>
<div class="t" style="top:801.0px;height:20px;line-height:20px;font-size:14px;color:#fff;left:1295.0px;width:200px;text-align:center;">筹码</div>
</body></html>
